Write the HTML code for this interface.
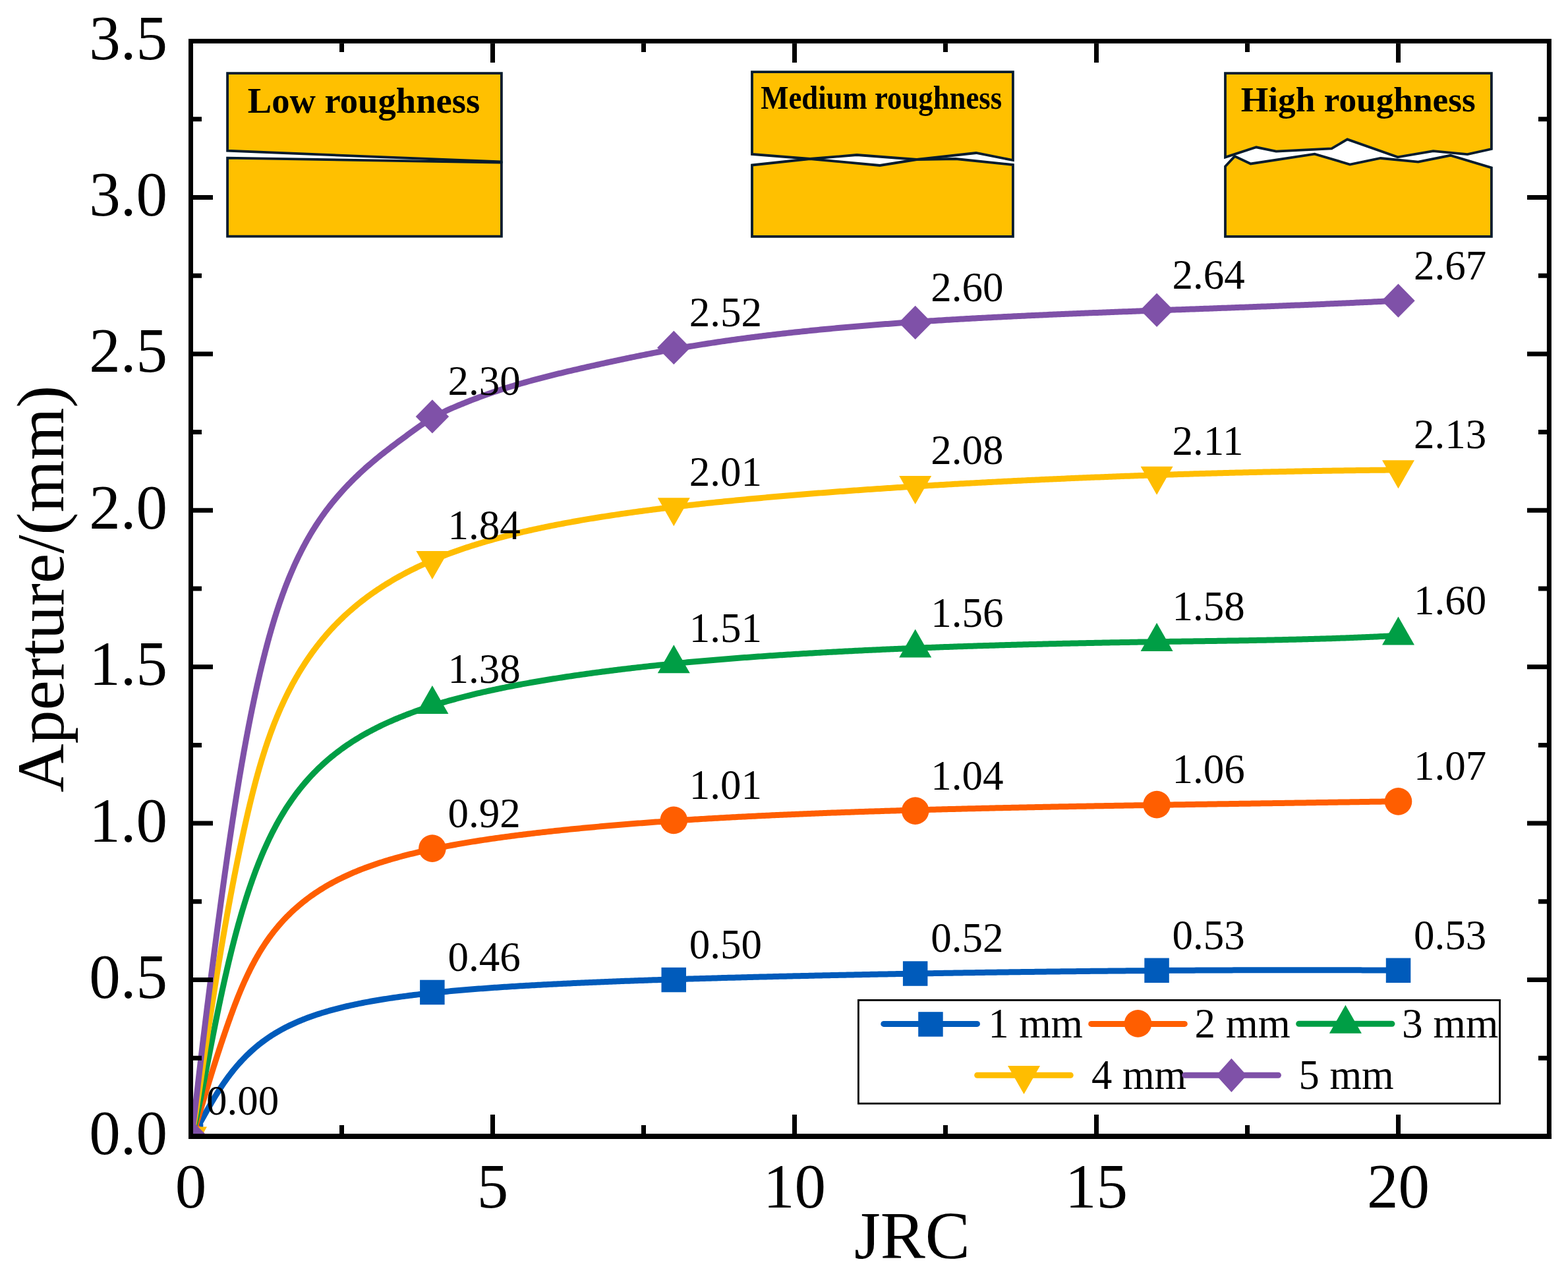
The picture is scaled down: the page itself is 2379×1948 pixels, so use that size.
<!DOCTYPE html>
<html><head><meta charset="utf-8"><title>Aperture vs JRC</title>
<style>
html,body{margin:0;padding:0;background:#fff;}
svg{display:block;}
text{font-family:"Liberation Serif","Times New Roman",serif;fill:#000;}
</style></head><body>
<svg width="2379" height="1948" viewBox="0 0 2379 1948">
<rect x="0" y="0" width="2379" height="1948" fill="#fff"/>
<defs><clipPath id="pa"><rect x="293" y="66" width="2054" height="1654"/></clipPath></defs>

<g id="insets">
<polygon points="345.1,111.1 760.9,111.1 760.9,245.5 345.1,228.7" fill="#FFC000" stroke="#041B2D" stroke-width="3.8" stroke-linejoin="miter"/><polygon points="345.1,239.6 760.9,246.7 760.9,358.7 345.1,358.7" fill="#FFC000" stroke="#041B2D" stroke-width="3.8" stroke-linejoin="miter"/>
<polygon points="1141.0,109.1 1536.9,109.1 1536.9,243.0 1481.0,232.0 1391.0,242.0 1300.0,235.0 1229.0,241.0 1141.0,234.0" fill="#FFC000" stroke="#041B2D" stroke-width="3.8" stroke-linejoin="miter"/><polygon points="1141.0,250.5 1229.0,241.0 1335.0,251.0 1391.0,242.0 1450.0,241.0 1536.9,250.0 1536.9,358.9 1141.0,358.9" fill="#FFC000" stroke="#041B2D" stroke-width="3.8" stroke-linejoin="miter"/>
<polygon points="1859.0,111.2 2262.9,111.2 2262.9,226.0 2226.4,234.2 2174.5,229.1 2120.6,238.4 2044.2,211.4 2020.4,225.3 1936.2,229.7 1906.0,223.3 1859.0,238.6" fill="#FFC000" stroke="#041B2D" stroke-width="3.8" stroke-linejoin="miter"/><polygon points="1859.0,252.5 1873.3,237.1 1897.5,248.5 1994.6,233.7 2048.1,249.5 2094.6,240.0 2151.7,245.7 2200.5,235.8 2262.9,254.5 2262.9,358.9 1859.0,358.9" fill="#FFC000" stroke="#041B2D" stroke-width="3.8" stroke-linejoin="miter"/>
<text x="552" y="171.3" font-size="54.6" font-weight="bold" text-anchor="middle">Low roughness</text>
<text x="1337.2" y="164.8" font-size="50" font-weight="bold" text-anchor="middle" textLength="366" lengthAdjust="spacingAndGlyphs">Medium roughness</text>
<text x="2060.8" y="168.7" font-size="53.3" font-weight="bold" text-anchor="middle">High roughness</text>
</g>
<g clip-path="url(#pa)">
<path d="M289.49,1723.85 L291.72,1721.87 L293.59,1719.51 L295.31,1717.05 L296.95,1714.52 L298.53,1711.97 L300.08,1709.39 L301.59,1706.79 L303.09,1704.18 L304.58,1701.57 L306.06,1698.95 L307.53,1696.33 L309.00,1693.70 L310.46,1691.08 L311.93,1688.45 L313.41,1685.83 L314.89,1683.21 L316.37,1680.60 L317.87,1677.98 L319.37,1675.38 L320.88,1672.78 L322.41,1670.19 L323.95,1667.60 L325.50,1665.03 L327.06,1662.46 L328.65,1659.90 L330.24,1657.35 L331.86,1654.81 L333.49,1652.29 L335.13,1649.77 L336.80,1647.27 L338.49,1644.78 L340.20,1642.30 L341.92,1639.84 L343.67,1637.39 L345.44,1634.96 L347.23,1632.54 L349.05,1630.14 L350.88,1627.76 L352.74,1625.40 L354.63,1623.05 L356.53,1620.73 L358.47,1618.42 L360.42,1616.14 L362.40,1613.87 L364.41,1611.63 L366.44,1609.42 L368.50,1607.22 L370.59,1605.06 L372.70,1602.91 L374.83,1600.80 L377.00,1598.70 L379.18,1596.64 L381.40,1594.60 L383.64,1592.60 L385.90,1590.62 L388.19,1588.67 L390.50,1586.75 L392.84,1584.85 L395.21,1582.99 L397.59,1581.16 L400.00,1579.36 L402.44,1577.60 L404.89,1575.86 L407.37,1574.15 L409.87,1572.48 L412.39,1570.84 L414.93,1569.23 L417.49,1567.65 L420.07,1566.10 L422.67,1564.59 L425.29,1563.11 L427.92,1561.65 L430.57,1560.23 L433.24,1558.84 L435.92,1557.48 L438.61,1556.14 L441.32,1554.84 L444.05,1553.57 L446.79,1552.32 L449.54,1551.10 L452.30,1549.91 L455.07,1548.74 L457.85,1547.60 L460.64,1546.48 L463.45,1545.39 L466.26,1544.32 L469.08,1543.28 L471.91,1542.26 L474.75,1541.26 L477.59,1540.28 L480.44,1539.33 L483.30,1538.39 L486.17,1537.48 L489.04,1536.58 L491.91,1535.70 L494.80,1534.84 L497.69,1534.00 L500.58,1533.18 L503.48,1532.38 L506.38,1531.59 L509.29,1530.82 L512.20,1530.06 L515.11,1529.32 L518.03,1528.59 L520.95,1527.88 L523.88,1527.19 L526.81,1526.50 L529.74,1525.84 L532.68,1525.18 L535.62,1524.54 L538.56,1523.91 L541.50,1523.29 L544.45,1522.69 L547.40,1522.09 L550.35,1521.51 L553.30,1520.94 L556.26,1520.38 L559.21,1519.83 L562.17,1519.29 L565.13,1518.76 L568.09,1518.25 L571.06,1517.74 L574.03,1517.24 L576.99,1516.74 L579.96,1516.26 L582.93,1515.79 L585.90,1515.32 L588.88,1514.87 L591.85,1514.42 L594.83,1513.98 L597.80,1513.54 L600.78,1513.12 L603.76,1512.70 L606.74,1512.29 L609.72,1511.88 L612.70,1511.48 L615.68,1511.09 L618.66,1510.71 L621.65,1510.33 L624.63,1509.96 L627.62,1509.59 L630.60,1509.23 L633.59,1508.87 L636.58,1508.52 L639.57,1508.18 L642.55,1507.84 L645.54,1507.51 L648.53,1507.18 L651.52,1506.86 L654.51,1506.54 L657.51,1506.22 L660.50,1505.91 L663.49,1505.61 L666.48,1505.31 L669.48,1505.01 L672.47,1504.72 L675.46,1504.43 L678.46,1504.15 L681.45,1503.87 L684.45,1503.59 L687.44,1503.32 L690.44,1503.05 L693.44,1502.79 L696.43,1502.53 L699.43,1502.27 L702.43,1502.02 L705.42,1501.77 L708.42,1501.52 L711.42,1501.27 L714.42,1501.03 L717.41,1500.80 L720.41,1500.56 L723.41,1500.33 L726.41,1500.10 L729.41,1499.87 L732.41,1499.65 L735.41,1499.43 L738.41,1499.21 L741.41,1498.99 L744.41,1498.78 L747.41,1498.57 L750.41,1498.36 L753.41,1498.16 L756.41,1497.95 L759.41,1497.75 L762.41,1497.55 L765.42,1497.36 L768.42,1497.16 L771.42,1496.97 L774.42,1496.78 L777.42,1496.59 L780.42,1496.41 L783.43,1496.22 L786.43,1496.04 L789.43,1495.86 L792.43,1495.68 L795.44,1495.51 L798.44,1495.33 L801.44,1495.16 L804.44,1494.99 L807.45,1494.82 L810.45,1494.65 L813.45,1494.49 L816.46,1494.32 L819.46,1494.16 L822.46,1494.00 L825.47,1493.84 L828.47,1493.68 L831.48,1493.53 L834.48,1493.37 L837.48,1493.22 L840.49,1493.07 L843.49,1492.92 L846.49,1492.77 L849.50,1492.62 L852.50,1492.47 L855.51,1492.33 L858.51,1492.18 L861.52,1492.04 L864.52,1491.90 L867.53,1491.76 L870.53,1491.62 L873.53,1491.48 L876.54,1491.35 L879.54,1491.21 L882.55,1491.08 L885.55,1490.94 L888.56,1490.81 L891.56,1490.68 L894.57,1490.55 L897.57,1490.42 L900.58,1490.29 L903.58,1490.17 L906.59,1490.04 L909.59,1489.91 L912.60,1489.79 L915.60,1489.67 L918.61,1489.55 L921.61,1489.42 L924.62,1489.30 L927.63,1489.19 L930.63,1489.07 L933.64,1488.95 L936.64,1488.83 L939.65,1488.72 L942.65,1488.60 L945.66,1488.49 L948.66,1488.37 L951.67,1488.26 L954.68,1488.15 L957.68,1488.04 L960.69,1487.93 L963.69,1487.82 L966.70,1487.71 L969.70,1487.60 L972.71,1487.50 L975.72,1487.39 L978.72,1487.28 L981.73,1487.18 L984.73,1487.07 L987.74,1486.97 L990.75,1486.87 L993.75,1486.76 L996.76,1486.66 L999.76,1486.56 L1002.77,1486.46 L1005.78,1486.36 L1008.78,1486.26 L1011.79,1486.16 L1014.79,1486.07 L1017.80,1485.97 L1020.81,1485.87 L1023.81,1485.77 L1026.82,1485.68 L1029.83,1485.58 L1032.83,1485.49 L1035.84,1485.40 L1038.84,1485.30 L1041.85,1485.21 L1044.86,1485.12 L1047.86,1485.02 L1050.87,1484.93 L1053.88,1484.84 L1056.88,1484.75 L1059.89,1484.66 L1062.90,1484.57 L1065.90,1484.48 L1068.91,1484.40 L1071.92,1484.31 L1074.92,1484.22 L1077.93,1484.13 L1080.93,1484.05 L1083.94,1483.96 L1086.95,1483.88 L1089.95,1483.79 L1092.96,1483.71 L1095.97,1483.62 L1098.97,1483.54 L1101.98,1483.46 L1104.99,1483.37 L1107.99,1483.29 L1111.00,1483.21 L1114.01,1483.13 L1117.01,1483.05 L1120.02,1482.97 L1123.03,1482.89 L1126.03,1482.81 L1129.04,1482.73 L1132.05,1482.65 L1135.05,1482.57 L1138.06,1482.49 L1141.07,1482.41 L1144.07,1482.34 L1147.08,1482.26 L1150.09,1482.18 L1153.10,1482.11 L1156.10,1482.03 L1159.11,1481.95 L1162.12,1481.88 L1165.12,1481.80 L1168.13,1481.73 L1171.14,1481.66 L1174.14,1481.58 L1177.15,1481.51 L1180.16,1481.43 L1183.16,1481.36 L1186.17,1481.29 L1189.18,1481.22 L1192.18,1481.15 L1195.19,1481.07 L1198.20,1481.00 L1201.21,1480.93 L1204.21,1480.86 L1207.22,1480.79 L1210.23,1480.72 L1213.23,1480.65 L1216.24,1480.58 L1219.25,1480.51 L1222.25,1480.45 L1225.26,1480.38 L1228.27,1480.31 L1231.27,1480.24 L1234.28,1480.18 L1237.29,1480.11 L1240.30,1480.04 L1243.30,1479.98 L1246.31,1479.91 L1249.32,1479.84 L1252.32,1479.78 L1255.33,1479.71 L1258.34,1479.65 L1261.35,1479.58 L1264.35,1479.52 L1267.36,1479.46 L1270.37,1479.39 L1273.37,1479.33 L1276.38,1479.27 L1279.39,1479.20 L1282.40,1479.14 L1285.40,1479.08 L1288.41,1479.02 L1291.42,1478.95 L1294.42,1478.89 L1297.43,1478.83 L1300.44,1478.77 L1303.45,1478.71 L1306.45,1478.65 L1309.46,1478.59 L1312.47,1478.53 L1315.47,1478.47 L1318.48,1478.41 L1321.49,1478.35 L1324.50,1478.29 L1327.50,1478.23 L1330.51,1478.18 L1333.52,1478.12 L1336.52,1478.06 L1339.53,1478.00 L1342.54,1477.95 L1345.55,1477.89 L1348.55,1477.83 L1351.56,1477.78 L1354.57,1477.72 L1357.57,1477.66 L1360.58,1477.61 L1363.59,1477.55 L1366.60,1477.50 L1369.60,1477.44 L1372.61,1477.39 L1375.62,1477.33 L1378.63,1477.28 L1381.63,1477.23 L1384.64,1477.17 L1387.65,1477.12 L1390.66,1477.07 L1393.66,1477.01 L1396.67,1476.96 L1399.68,1476.91 L1402.68,1476.86 L1405.69,1476.81 L1408.70,1476.75 L1411.71,1476.70 L1414.71,1476.65 L1417.72,1476.60 L1420.73,1476.55 L1423.74,1476.50 L1426.74,1476.45 L1429.75,1476.40 L1432.76,1476.35 L1435.77,1476.30 L1438.77,1476.25 L1441.78,1476.20 L1444.79,1476.15 L1447.79,1476.11 L1450.80,1476.06 L1453.81,1476.01 L1456.82,1475.96 L1459.82,1475.92 L1462.83,1475.87 L1465.84,1475.82 L1468.85,1475.78 L1471.85,1475.73 L1474.86,1475.68 L1477.87,1475.64 L1480.88,1475.59 L1483.88,1475.55 L1486.89,1475.50 L1489.90,1475.46 L1492.91,1475.41 L1495.91,1475.37 L1498.92,1475.32 L1501.93,1475.28 L1504.94,1475.24 L1507.94,1475.19 L1510.95,1475.15 L1513.96,1475.11 L1516.97,1475.06 L1519.97,1475.02 L1522.98,1474.98 L1525.99,1474.94 L1529.00,1474.90 L1532.00,1474.85 L1535.01,1474.81 L1538.02,1474.77 L1541.03,1474.73 L1544.03,1474.69 L1547.04,1474.65 L1550.05,1474.61 L1553.06,1474.57 L1556.06,1474.53 L1559.07,1474.49 L1562.08,1474.45 L1565.09,1474.41 L1568.09,1474.38 L1571.10,1474.34 L1574.11,1474.30 L1577.12,1474.26 L1580.12,1474.23 L1583.13,1474.19 L1586.14,1474.15 L1589.15,1474.11 L1592.15,1474.08 L1595.16,1474.04 L1598.17,1474.01 L1601.18,1473.97 L1604.18,1473.93 L1607.19,1473.90 L1610.20,1473.86 L1613.21,1473.83 L1616.21,1473.80 L1619.22,1473.76 L1622.23,1473.73 L1625.24,1473.69 L1628.24,1473.66 L1631.25,1473.63 L1634.26,1473.59 L1637.27,1473.56 L1640.27,1473.53 L1643.28,1473.50 L1646.29,1473.47 L1649.30,1473.43 L1652.30,1473.40 L1655.31,1473.37 L1658.32,1473.34 L1661.33,1473.31 L1664.34,1473.28 L1667.34,1473.25 L1670.35,1473.22 L1673.36,1473.19 L1676.37,1473.16 L1679.37,1473.13 L1682.38,1473.11 L1685.39,1473.08 L1688.40,1473.05 L1691.40,1473.02 L1694.41,1472.99 L1697.42,1472.97 L1700.43,1472.94 L1703.43,1472.91 L1706.44,1472.89 L1709.45,1472.86 L1712.46,1472.83 L1715.47,1472.81 L1718.47,1472.78 L1721.48,1472.76 L1724.49,1472.73 L1727.50,1472.71 L1730.50,1472.68 L1733.51,1472.66 L1736.52,1472.64 L1739.53,1472.61 L1742.53,1472.59 L1745.54,1472.57 L1748.55,1472.54 L1751.56,1472.52 L1754.57,1472.50 L1757.57,1472.48 L1760.58,1472.46 L1763.59,1472.43 L1766.60,1472.41 L1769.60,1472.39 L1772.61,1472.37 L1775.62,1472.35 L1778.63,1472.33 L1781.63,1472.31 L1784.64,1472.29 L1787.65,1472.28 L1790.66,1472.26 L1793.67,1472.24 L1796.67,1472.22 L1799.68,1472.20 L1802.69,1472.19 L1805.70,1472.17 L1808.70,1472.15 L1811.71,1472.13 L1814.72,1472.12 L1817.73,1472.10 L1820.73,1472.09 L1823.74,1472.07 L1826.75,1472.06 L1829.76,1472.04 L1832.77,1472.03 L1835.77,1472.01 L1838.78,1472.00 L1841.79,1471.98 L1844.80,1471.97 L1847.80,1471.96 L1850.81,1471.95 L1853.82,1471.93 L1856.83,1471.92 L1859.84,1471.91 L1862.84,1471.90 L1865.85,1471.89 L1868.86,1471.88 L1871.87,1471.87 L1874.87,1471.86 L1877.88,1471.85 L1880.89,1471.84 L1883.90,1471.83 L1886.91,1471.82 L1889.91,1471.81 L1892.92,1471.80 L1895.93,1471.79 L1898.94,1471.78 L1901.94,1471.78 L1904.95,1471.77 L1907.96,1471.76 L1910.97,1471.76 L1913.97,1471.75 L1916.98,1471.74 L1919.99,1471.74 L1923.00,1471.73 L1926.01,1471.73 L1929.01,1471.72 L1932.02,1471.72 L1935.03,1471.72 L1938.04,1471.71 L1941.04,1471.71 L1944.05,1471.71 L1947.06,1471.70 L1950.07,1471.70 L1953.08,1471.70 L1956.08,1471.70 L1959.09,1471.70 L1962.10,1471.70 L1965.11,1471.70 L1968.11,1471.70 L1971.12,1471.70 L1974.13,1471.70 L1977.14,1471.70 L1980.15,1471.70 L1983.15,1471.70 L1986.16,1471.70 L1989.17,1471.70 L1992.18,1471.71 L1995.18,1471.71 L1998.19,1471.71 L2001.20,1471.72 L2004.21,1471.72 L2007.22,1471.72 L2010.22,1471.73 L2013.23,1471.73 L2016.24,1471.74 L2019.25,1471.74 L2022.25,1471.75 L2025.26,1471.76 L2028.27,1471.76 L2031.28,1471.77 L2034.29,1471.78 L2037.29,1471.79 L2040.30,1471.79 L2043.31,1471.80 L2046.32,1471.81 L2049.32,1471.82 L2052.33,1471.83 L2055.34,1471.84 L2058.35,1471.85 L2061.36,1471.86 L2064.36,1471.87 L2067.37,1471.88 L2070.38,1471.89 L2073.39,1471.91 L2076.39,1471.92 L2079.40,1471.93 L2082.41,1471.94 L2085.42,1471.96 L2088.43,1471.97 L2091.43,1471.99 L2094.44,1472.00 L2097.45,1472.02 L2100.46,1472.03 L2103.46,1472.05 L2106.47,1472.06 L2109.48,1472.08 L2112.49,1472.10 L2115.49,1472.11 L2118.50,1472.13 L2121.51,1472.15" fill="none" stroke="#005BBB" stroke-width="9" stroke-linejoin="round"/>
<rect x="270.8" y="1705.2" width="37.5" height="37.5" fill="#005BBB"/>
<rect x="637.1" y="1486.7" width="37.5" height="37.5" fill="#005BBB"/>
<rect x="1003.5" y="1467.8" width="37.5" height="37.5" fill="#005BBB"/>
<rect x="1369.9" y="1458.3" width="37.5" height="37.5" fill="#005BBB"/>
<rect x="1736.3" y="1453.5" width="37.5" height="37.5" fill="#005BBB"/>
<rect x="2102.8" y="1453.5" width="37.5" height="37.5" fill="#005BBB"/>
<path d="M289.50,1723.90 L291.27,1721.51 L292.58,1718.81 L293.73,1716.03 L294.81,1713.23 L295.83,1710.40 L296.81,1707.56 L297.77,1704.71 L298.70,1701.85 L299.62,1698.99 L300.52,1696.12 L301.41,1693.25 L302.30,1690.38 L303.18,1687.51 L304.05,1684.63 L304.92,1681.75 L305.79,1678.88 L306.65,1676.00 L307.51,1673.12 L308.38,1670.24 L309.24,1667.36 L310.11,1664.48 L310.97,1661.60 L311.84,1658.72 L312.70,1655.85 L313.57,1652.97 L314.44,1650.09 L315.32,1647.22 L316.19,1644.34 L317.07,1641.47 L317.95,1638.59 L318.83,1635.72 L319.72,1632.85 L320.61,1629.98 L321.50,1627.11 L322.40,1624.24 L323.30,1621.37 L324.20,1618.50 L325.10,1615.64 L326.01,1612.77 L326.93,1609.91 L327.84,1607.05 L328.76,1604.18 L329.68,1601.32 L330.61,1598.46 L331.54,1595.61 L332.48,1592.75 L333.41,1589.89 L334.36,1587.04 L335.30,1584.19 L336.25,1581.33 L337.21,1578.48 L338.16,1575.64 L339.12,1572.79 L340.09,1569.94 L341.06,1567.10 L342.03,1564.25 L343.01,1561.41 L343.99,1558.57 L344.98,1555.73 L345.97,1552.89 L346.97,1550.06 L347.98,1547.23 L348.99,1544.39 L350.00,1541.57 L351.03,1538.74 L352.06,1535.92 L353.10,1533.10 L354.14,1530.28 L355.20,1527.47 L356.27,1524.66 L357.34,1521.85 L358.43,1519.05 L359.53,1516.25 L360.63,1513.45 L361.75,1510.66 L362.88,1507.88 L364.03,1505.10 L365.18,1502.33 L366.35,1499.56 L367.54,1496.79 L368.73,1494.04 L369.95,1491.29 L371.17,1488.54 L372.42,1485.81 L373.67,1483.08 L374.95,1480.35 L376.24,1477.64 L377.55,1474.93 L378.88,1472.24 L380.22,1469.55 L381.58,1466.87 L382.97,1464.20 L384.37,1461.54 L385.79,1458.90 L387.23,1456.26 L388.70,1453.63 L390.18,1451.02 L391.69,1448.42 L393.21,1445.83 L394.76,1443.25 L396.34,1440.69 L397.93,1438.15 L399.55,1435.61 L401.19,1433.10 L402.86,1430.60 L404.55,1428.11 L406.27,1425.64 L408.01,1423.19 L409.77,1420.76 L411.56,1418.35 L413.38,1415.95 L415.22,1413.58 L417.09,1411.22 L418.98,1408.89 L420.90,1406.57 L422.84,1404.28 L424.81,1402.00 L426.80,1399.75 L428.82,1397.53 L430.86,1395.32 L432.93,1393.14 L435.02,1390.98 L437.13,1388.84 L439.27,1386.73 L441.43,1384.64 L443.61,1382.57 L445.82,1380.53 L448.05,1378.51 L450.30,1376.52 L452.57,1374.55 L454.86,1372.61 L457.18,1370.69 L459.51,1368.80 L461.87,1366.94 L464.24,1365.09 L466.64,1363.28 L469.05,1361.49 L471.49,1359.72 L473.94,1357.98 L476.41,1356.27 L478.89,1354.58 L481.39,1352.91 L483.91,1351.27 L486.45,1349.66 L489.00,1348.07 L491.56,1346.50 L494.14,1344.96 L496.74,1343.44 L499.35,1341.95 L501.97,1340.48 L504.60,1339.04 L507.25,1337.61 L509.91,1336.22 L512.59,1334.84 L515.27,1333.49 L517.96,1332.16 L520.67,1330.85 L523.39,1329.56 L526.11,1328.30 L528.85,1327.05 L531.60,1325.83 L534.35,1324.63 L537.11,1323.45 L539.89,1322.29 L542.67,1321.14 L545.45,1320.02 L548.25,1318.92 L551.05,1317.83 L553.86,1316.76 L556.68,1315.71 L559.50,1314.68 L562.33,1313.67 L565.17,1312.67 L568.01,1311.69 L570.85,1310.72 L573.70,1309.77 L576.56,1308.84 L579.42,1307.92 L582.29,1307.01 L585.16,1306.12 L588.04,1305.25 L590.92,1304.39 L593.80,1303.54 L596.69,1302.70 L599.58,1301.88 L602.47,1301.07 L605.37,1300.27 L608.27,1299.49 L611.17,1298.71 L614.08,1297.95 L616.99,1297.20 L619.91,1296.46 L622.82,1295.73 L625.74,1295.01 L628.66,1294.30 L631.58,1293.60 L634.51,1292.91 L637.44,1292.24 L640.37,1291.57 L643.30,1290.91 L646.24,1290.26 L649.17,1289.61 L652.11,1288.98 L655.05,1288.36 L657.99,1287.74 L660.94,1287.13 L663.88,1286.53 L666.83,1285.94 L669.78,1285.35 L672.72,1284.78 L675.68,1284.21 L678.63,1283.65 L681.58,1283.09 L684.54,1282.54 L687.49,1282.00 L690.45,1281.46 L693.41,1280.94 L696.37,1280.41 L699.33,1279.90 L702.29,1279.39 L705.26,1278.88 L708.22,1278.38 L711.19,1277.89 L714.15,1277.41 L717.12,1276.92 L720.09,1276.45 L723.06,1275.98 L726.02,1275.51 L728.99,1275.05 L731.97,1274.60 L734.94,1274.15 L737.91,1273.70 L740.88,1273.26 L743.86,1272.82 L746.83,1272.39 L749.81,1271.96 L752.78,1271.54 L755.76,1271.12 L758.74,1270.71 L761.71,1270.30 L764.69,1269.89 L767.67,1269.49 L770.65,1269.09 L773.63,1268.70 L776.61,1268.31 L779.59,1267.92 L782.57,1267.54 L785.55,1267.16 L788.53,1266.78 L791.52,1266.41 L794.50,1266.04 L797.48,1265.67 L800.47,1265.31 L803.45,1264.95 L806.44,1264.60 L809.42,1264.24 L812.41,1263.89 L815.39,1263.55 L818.38,1263.20 L821.36,1262.86 L824.35,1262.52 L827.34,1262.19 L830.32,1261.86 L833.31,1261.53 L836.30,1261.20 L839.29,1260.88 L842.28,1260.56 L845.27,1260.24 L848.25,1259.92 L851.24,1259.61 L854.23,1259.30 L857.22,1258.99 L860.21,1258.68 L863.20,1258.38 L866.19,1258.08 L869.19,1257.78 L872.18,1257.49 L875.17,1257.19 L878.16,1256.90 L881.15,1256.61 L884.14,1256.32 L887.13,1256.04 L890.13,1255.76 L893.12,1255.48 L896.11,1255.20 L899.11,1254.92 L902.10,1254.65 L905.09,1254.38 L908.09,1254.11 L911.08,1253.84 L914.07,1253.57 L917.07,1253.31 L920.06,1253.05 L923.06,1252.79 L926.05,1252.53 L929.05,1252.27 L932.04,1252.02 L935.04,1251.77 L938.03,1251.52 L941.03,1251.27 L944.02,1251.02 L947.02,1250.78 L950.01,1250.53 L953.01,1250.29 L956.01,1250.05 L959.00,1249.81 L962.00,1249.58 L964.99,1249.34 L967.99,1249.11 L970.99,1248.88 L973.98,1248.65 L976.98,1248.43 L979.98,1248.20 L982.98,1247.98 L985.97,1247.76 L988.97,1247.53 L991.97,1247.32 L994.97,1247.10 L997.97,1246.88 L1000.96,1246.67 L1003.96,1246.46 L1006.96,1246.25 L1009.96,1246.04 L1012.96,1245.83 L1015.96,1245.63 L1018.95,1245.42 L1021.95,1245.22 L1024.95,1245.02 L1027.95,1244.82 L1030.95,1244.62 L1033.95,1244.43 L1036.95,1244.23 L1039.95,1244.04 L1042.95,1243.85 L1045.95,1243.66 L1048.95,1243.47 L1051.95,1243.29 L1054.95,1243.10 L1057.95,1242.92 L1060.95,1242.73 L1063.95,1242.55 L1066.95,1242.37 L1069.95,1242.19 L1072.95,1242.02 L1075.95,1241.84 L1078.95,1241.67 L1081.95,1241.49 L1084.95,1241.32 L1087.95,1241.15 L1090.95,1240.98 L1093.95,1240.82 L1096.96,1240.65 L1099.96,1240.48 L1102.96,1240.32 L1105.96,1240.16 L1108.96,1240.00 L1111.96,1239.84 L1114.96,1239.68 L1117.96,1239.52 L1120.97,1239.36 L1123.97,1239.21 L1126.97,1239.05 L1129.97,1238.90 L1132.97,1238.74 L1135.97,1238.59 L1138.98,1238.44 L1141.98,1238.29 L1144.98,1238.15 L1147.98,1238.00 L1150.99,1237.85 L1153.99,1237.71 L1156.99,1237.57 L1159.99,1237.42 L1162.99,1237.28 L1166.00,1237.14 L1169.00,1237.00 L1172.00,1236.86 L1175.00,1236.72 L1178.01,1236.59 L1181.01,1236.45 L1184.01,1236.32 L1187.01,1236.18 L1190.02,1236.05 L1193.02,1235.92 L1196.02,1235.79 L1199.03,1235.66 L1202.03,1235.53 L1205.03,1235.40 L1208.03,1235.27 L1211.04,1235.15 L1214.04,1235.02 L1217.04,1234.89 L1220.05,1234.77 L1223.05,1234.65 L1226.05,1234.53 L1229.06,1234.40 L1232.06,1234.28 L1235.06,1234.16 L1238.07,1234.04 L1241.07,1233.93 L1244.07,1233.81 L1247.08,1233.69 L1250.08,1233.58 L1253.08,1233.46 L1256.09,1233.35 L1259.09,1233.23 L1262.09,1233.12 L1265.10,1233.01 L1268.10,1232.90 L1271.10,1232.79 L1274.11,1232.68 L1277.11,1232.57 L1280.12,1232.46 L1283.12,1232.35 L1286.12,1232.25 L1289.13,1232.14 L1292.13,1232.04 L1295.13,1231.93 L1298.14,1231.83 L1301.14,1231.72 L1304.15,1231.62 L1307.15,1231.52 L1310.15,1231.42 L1313.16,1231.32 L1316.16,1231.22 L1319.17,1231.12 L1322.17,1231.02 L1325.17,1230.92 L1328.18,1230.82 L1331.18,1230.73 L1334.19,1230.63 L1337.19,1230.53 L1340.20,1230.44 L1343.20,1230.34 L1346.20,1230.25 L1349.21,1230.16 L1352.21,1230.06 L1355.22,1229.97 L1358.22,1229.88 L1361.22,1229.79 L1364.23,1229.70 L1367.23,1229.61 L1370.24,1229.52 L1373.24,1229.43 L1376.25,1229.34 L1379.25,1229.26 L1382.26,1229.17 L1385.26,1229.08 L1388.26,1229.00 L1391.27,1228.91 L1394.27,1228.83 L1397.28,1228.74 L1400.28,1228.66 L1403.29,1228.57 L1406.29,1228.49 L1409.30,1228.41 L1412.30,1228.33 L1415.31,1228.25 L1418.31,1228.16 L1421.31,1228.08 L1424.32,1228.00 L1427.32,1227.92 L1430.33,1227.84 L1433.33,1227.77 L1436.34,1227.69 L1439.34,1227.61 L1442.35,1227.53 L1445.35,1227.46 L1448.36,1227.38 L1451.36,1227.30 L1454.37,1227.23 L1457.37,1227.15 L1460.38,1227.08 L1463.38,1227.01 L1466.38,1226.93 L1469.39,1226.86 L1472.39,1226.79 L1475.40,1226.71 L1478.40,1226.64 L1481.41,1226.57 L1484.41,1226.50 L1487.42,1226.43 L1490.42,1226.36 L1493.43,1226.29 L1496.43,1226.22 L1499.44,1226.15 L1502.44,1226.08 L1505.45,1226.01 L1508.45,1225.94 L1511.46,1225.87 L1514.46,1225.81 L1517.47,1225.74 L1520.47,1225.67 L1523.48,1225.61 L1526.48,1225.54 L1529.49,1225.47 L1532.49,1225.41 L1535.50,1225.34 L1538.50,1225.28 L1541.51,1225.21 L1544.51,1225.15 L1547.52,1225.09 L1550.52,1225.02 L1553.53,1224.96 L1556.53,1224.90 L1559.54,1224.83 L1562.54,1224.77 L1565.55,1224.71 L1568.55,1224.65 L1571.56,1224.59 L1574.56,1224.53 L1577.57,1224.47 L1580.57,1224.41 L1583.58,1224.34 L1586.58,1224.29 L1589.59,1224.23 L1592.59,1224.17 L1595.60,1224.11 L1598.60,1224.05 L1601.61,1223.99 L1604.61,1223.93 L1607.62,1223.87 L1610.62,1223.82 L1613.63,1223.76 L1616.63,1223.70 L1619.64,1223.65 L1622.64,1223.59 L1625.65,1223.53 L1628.65,1223.48 L1631.66,1223.42 L1634.66,1223.36 L1637.67,1223.31 L1640.67,1223.25 L1643.68,1223.20 L1646.69,1223.14 L1649.69,1223.09 L1652.70,1223.04 L1655.70,1222.98 L1658.71,1222.93 L1661.71,1222.87 L1664.72,1222.82 L1667.72,1222.77 L1670.73,1222.71 L1673.73,1222.66 L1676.74,1222.61 L1679.74,1222.56 L1682.75,1222.50 L1685.75,1222.45 L1688.76,1222.40 L1691.76,1222.35 L1694.77,1222.30 L1697.77,1222.25 L1700.78,1222.19 L1703.78,1222.14 L1706.79,1222.09 L1709.79,1222.04 L1712.80,1221.99 L1715.81,1221.94 L1718.81,1221.89 L1721.82,1221.84 L1724.82,1221.79 L1727.83,1221.74 L1730.83,1221.69 L1733.84,1221.64 L1736.84,1221.59 L1739.85,1221.54 L1742.85,1221.50 L1745.86,1221.45 L1748.86,1221.40 L1751.87,1221.35 L1754.87,1221.30 L1757.88,1221.25 L1760.88,1221.21 L1763.89,1221.16 L1766.90,1221.11 L1769.90,1221.06 L1772.91,1221.01 L1775.91,1220.97 L1778.92,1220.92 L1781.92,1220.87 L1784.93,1220.82 L1787.93,1220.78 L1790.94,1220.73 L1793.94,1220.68 L1796.95,1220.64 L1799.95,1220.59 L1802.96,1220.54 L1805.96,1220.50 L1808.97,1220.45 L1811.97,1220.41 L1814.98,1220.36 L1817.99,1220.31 L1820.99,1220.27 L1824.00,1220.22 L1827.00,1220.17 L1830.01,1220.13 L1833.01,1220.08 L1836.02,1220.04 L1839.02,1219.99 L1842.03,1219.95 L1845.03,1219.90 L1848.04,1219.86 L1851.04,1219.81 L1854.05,1219.76 L1857.05,1219.72 L1860.06,1219.67 L1863.07,1219.63 L1866.07,1219.58 L1869.08,1219.54 L1872.08,1219.49 L1875.09,1219.45 L1878.09,1219.40 L1881.10,1219.36 L1884.10,1219.31 L1887.11,1219.27 L1890.11,1219.22 L1893.12,1219.18 L1896.12,1219.14 L1899.13,1219.09 L1902.13,1219.05 L1905.14,1219.00 L1908.15,1218.96 L1911.15,1218.91 L1914.16,1218.87 L1917.16,1218.82 L1920.17,1218.78 L1923.17,1218.73 L1926.18,1218.69 L1929.18,1218.64 L1932.19,1218.60 L1935.19,1218.56 L1938.20,1218.51 L1941.20,1218.47 L1944.21,1218.42 L1947.22,1218.38 L1950.22,1218.33 L1953.23,1218.29 L1956.23,1218.24 L1959.24,1218.20 L1962.24,1218.15 L1965.25,1218.11 L1968.25,1218.06 L1971.26,1218.02 L1974.26,1217.97 L1977.27,1217.93 L1980.27,1217.88 L1983.28,1217.84 L1986.28,1217.79 L1989.29,1217.75 L1992.30,1217.70 L1995.30,1217.66 L1998.31,1217.61 L2001.31,1217.57 L2004.32,1217.52 L2007.32,1217.48 L2010.33,1217.43 L2013.33,1217.39 L2016.34,1217.34 L2019.34,1217.30 L2022.35,1217.25 L2025.35,1217.21 L2028.36,1217.16 L2031.36,1217.11 L2034.37,1217.07 L2037.38,1217.02 L2040.38,1216.98 L2043.39,1216.93 L2046.39,1216.88 L2049.40,1216.84 L2052.40,1216.79 L2055.41,1216.75 L2058.41,1216.70 L2061.42,1216.65 L2064.42,1216.61 L2067.43,1216.56 L2070.43,1216.51 L2073.44,1216.47 L2076.44,1216.42 L2079.45,1216.37 L2082.46,1216.33 L2085.46,1216.28 L2088.47,1216.23 L2091.47,1216.18 L2094.48,1216.14 L2097.48,1216.09 L2100.49,1216.04 L2103.49,1215.99 L2106.50,1215.94 L2109.50,1215.90 L2112.51,1215.85 L2115.51,1215.80 L2118.52,1215.75 L2121.52,1215.70" fill="none" stroke="#FF5E00" stroke-width="9" stroke-linejoin="round"/>
<circle cx="289.5" cy="1723.9" r="20.8" fill="#FF5E00"/>
<circle cx="655.9" cy="1287.1" r="20.8" fill="#FF5E00"/>
<circle cx="1022.3" cy="1244.4" r="20.8" fill="#FF5E00"/>
<circle cx="1388.7" cy="1230.1" r="20.8" fill="#FF5E00"/>
<circle cx="1755.1" cy="1220.6" r="20.8" fill="#FF5E00"/>
<circle cx="2121.5" cy="1215.9" r="20.8" fill="#FF5E00"/>
<path d="M289.47,1723.85 L290.87,1721.21 L291.90,1718.38 L292.81,1715.52 L293.65,1712.63 L294.45,1709.73 L295.21,1706.82 L295.95,1703.91 L296.67,1700.99 L297.37,1698.06 L298.06,1695.13 L298.73,1692.20 L299.39,1689.27 L300.04,1686.33 L300.69,1683.39 L301.32,1680.45 L301.95,1677.51 L302.57,1674.57 L303.19,1671.63 L303.80,1668.68 L304.41,1665.74 L305.01,1662.79 L305.61,1659.84 L306.21,1656.89 L306.80,1653.95 L307.40,1651.00 L307.98,1648.05 L308.57,1645.10 L309.16,1642.15 L309.74,1639.20 L310.32,1636.25 L310.90,1633.29 L311.48,1630.34 L312.06,1627.39 L312.64,1624.44 L313.21,1621.49 L313.79,1618.54 L314.37,1615.58 L314.94,1612.63 L315.52,1609.68 L316.09,1606.73 L316.67,1603.78 L317.24,1600.82 L317.82,1597.87 L318.40,1594.92 L318.98,1591.97 L319.55,1589.02 L320.13,1586.07 L320.71,1583.11 L321.29,1580.16 L321.87,1577.21 L322.46,1574.26 L323.04,1571.31 L323.63,1568.36 L324.21,1565.41 L324.80,1562.46 L325.39,1559.51 L325.98,1556.56 L326.58,1553.62 L327.17,1550.67 L327.77,1547.72 L328.37,1544.77 L328.97,1541.83 L329.57,1538.88 L330.18,1535.93 L330.79,1532.99 L331.40,1530.04 L332.01,1527.10 L332.62,1524.15 L333.24,1521.21 L333.86,1518.27 L334.49,1515.32 L335.11,1512.38 L335.74,1509.44 L336.38,1506.50 L337.01,1503.56 L337.65,1500.62 L338.29,1497.68 L338.94,1494.75 L339.59,1491.81 L340.24,1488.87 L340.90,1485.94 L341.56,1483.01 L342.22,1480.07 L342.89,1477.14 L343.56,1474.21 L344.24,1471.28 L344.92,1468.35 L345.60,1465.42 L346.29,1462.49 L346.98,1459.56 L347.68,1456.64 L348.39,1453.71 L349.09,1450.79 L349.81,1447.87 L350.52,1444.95 L351.25,1442.03 L351.98,1439.11 L352.71,1436.19 L353.45,1433.28 L354.19,1430.36 L354.94,1427.45 L355.70,1424.54 L356.46,1421.63 L357.23,1418.72 L358.00,1415.82 L358.78,1412.91 L359.57,1410.01 L360.36,1407.11 L361.16,1404.21 L361.97,1401.31 L362.78,1398.42 L363.60,1395.52 L364.43,1392.63 L365.26,1389.74 L366.10,1386.85 L366.95,1383.97 L367.81,1381.08 L368.67,1378.20 L369.55,1375.33 L370.43,1372.45 L371.32,1369.58 L372.21,1366.71 L373.12,1363.84 L374.03,1360.97 L374.96,1358.11 L375.89,1355.25 L376.83,1352.40 L377.78,1349.54 L378.74,1346.69 L379.71,1343.85 L380.70,1341.00 L381.69,1338.16 L382.69,1335.33 L383.70,1332.49 L384.72,1329.66 L385.75,1326.84 L386.79,1324.02 L387.85,1321.20 L388.91,1318.39 L389.99,1315.58 L391.08,1312.78 L392.18,1309.98 L393.30,1307.19 L394.43,1304.40 L395.57,1301.61 L396.72,1298.84 L397.89,1296.07 L399.07,1293.30 L400.26,1290.54 L401.47,1287.79 L402.70,1285.04 L403.93,1282.30 L405.19,1279.56 L406.46,1276.84 L407.74,1274.12 L409.04,1271.40 L410.36,1268.70 L411.69,1266.00 L413.04,1263.32 L414.41,1260.64 L415.79,1257.97 L417.19,1255.30 L418.61,1252.65 L420.04,1250.01 L421.50,1247.38 L422.97,1244.75 L424.46,1242.14 L425.97,1239.54 L427.50,1236.95 L429.05,1234.37 L430.62,1231.81 L432.20,1229.25 L433.81,1226.71 L435.44,1224.18 L437.08,1221.66 L438.75,1219.16 L440.44,1216.67 L442.15,1214.19 L443.88,1211.73 L445.63,1209.29 L447.40,1206.86 L449.19,1204.44 L451.01,1202.04 L452.84,1199.66 L454.70,1197.29 L456.58,1194.94 L458.47,1192.61 L460.39,1190.30 L462.34,1188.00 L464.30,1185.72 L466.28,1183.46 L468.28,1181.22 L470.31,1178.99 L472.36,1176.79 L474.42,1174.60 L476.51,1172.44 L478.62,1170.29 L480.75,1168.17 L482.89,1166.06 L485.06,1163.98 L487.25,1161.91 L489.46,1159.87 L491.68,1157.85 L493.93,1155.85 L496.19,1153.86 L498.47,1151.91 L500.77,1149.97 L503.09,1148.05 L505.42,1146.16 L507.78,1144.28 L510.15,1142.43 L512.53,1140.60 L514.94,1138.79 L517.35,1137.00 L519.79,1135.24 L522.24,1133.49 L524.70,1131.77 L527.18,1130.07 L529.68,1128.39 L532.19,1126.73 L534.71,1125.09 L537.24,1123.47 L539.79,1121.87 L542.36,1120.30 L544.93,1118.74 L547.52,1117.21 L550.11,1115.69 L552.72,1114.20 L555.34,1112.72 L557.98,1111.27 L560.62,1109.83 L563.27,1108.41 L565.94,1107.02 L568.61,1105.64 L571.29,1104.28 L573.98,1102.94 L576.68,1101.61 L579.39,1100.31 L582.11,1099.02 L584.84,1097.75 L587.57,1096.50 L590.31,1095.26 L593.06,1094.04 L595.82,1092.84 L598.58,1091.65 L601.35,1090.48 L604.13,1089.33 L606.92,1088.19 L609.71,1087.07 L612.50,1085.96 L615.30,1084.86 L618.11,1083.78 L620.92,1082.72 L623.74,1081.66 L626.56,1080.63 L629.39,1079.60 L632.22,1078.59 L635.06,1077.59 L637.90,1076.60 L640.75,1075.63 L643.60,1074.67 L646.45,1073.72 L649.31,1072.78 L652.17,1071.86 L655.03,1070.94 L657.90,1070.04 L660.78,1069.15 L663.65,1068.27 L666.53,1067.40 L669.41,1066.54 L672.30,1065.69 L675.19,1064.85 L678.08,1064.02 L680.97,1063.20 L683.87,1062.40 L686.77,1061.60 L689.67,1060.81 L692.58,1060.02 L695.48,1059.25 L698.39,1058.49 L701.30,1057.73 L704.22,1056.99 L707.13,1056.25 L710.05,1055.52 L712.97,1054.80 L715.89,1054.09 L718.82,1053.38 L721.74,1052.68 L724.67,1051.99 L727.60,1051.31 L730.53,1050.63 L733.46,1049.97 L736.39,1049.30 L739.33,1048.65 L742.27,1048.00 L745.21,1047.36 L748.15,1046.73 L751.09,1046.10 L754.03,1045.48 L756.97,1044.86 L759.92,1044.25 L762.87,1043.65 L765.81,1043.05 L768.76,1042.46 L771.71,1041.87 L774.66,1041.29 L777.62,1040.72 L780.57,1040.15 L783.52,1039.59 L786.48,1039.03 L789.43,1038.47 L792.39,1037.93 L795.35,1037.38 L798.31,1036.84 L801.27,1036.31 L804.23,1035.78 L807.19,1035.26 L810.15,1034.74 L813.12,1034.23 L816.08,1033.72 L819.05,1033.21 L822.01,1032.71 L824.98,1032.21 L827.95,1031.72 L830.91,1031.23 L833.88,1030.75 L836.85,1030.27 L839.82,1029.79 L842.79,1029.32 L845.76,1028.85 L848.73,1028.39 L851.71,1027.93 L854.68,1027.47 L857.65,1027.02 L860.63,1026.57 L863.60,1026.12 L866.58,1025.68 L869.55,1025.24 L872.53,1024.81 L875.50,1024.38 L878.48,1023.95 L881.46,1023.53 L884.44,1023.10 L887.41,1022.69 L890.39,1022.27 L893.37,1021.86 L896.35,1021.45 L899.33,1021.05 L902.31,1020.65 L905.29,1020.25 L908.28,1019.85 L911.26,1019.46 L914.24,1019.07 L917.22,1018.68 L920.21,1018.30 L923.19,1017.92 L926.17,1017.54 L929.16,1017.17 L932.14,1016.79 L935.13,1016.43 L938.11,1016.06 L941.10,1015.69 L944.08,1015.33 L947.07,1014.98 L950.06,1014.62 L953.04,1014.27 L956.03,1013.92 L959.02,1013.57 L962.01,1013.23 L964.99,1012.88 L967.98,1012.54 L970.97,1012.21 L973.96,1011.87 L976.95,1011.54 L979.94,1011.21 L982.93,1010.88 L985.92,1010.56 L988.91,1010.24 L991.90,1009.92 L994.89,1009.60 L997.88,1009.29 L1000.87,1008.97 L1003.86,1008.66 L1006.86,1008.36 L1009.85,1008.05 L1012.84,1007.75 L1015.83,1007.45 L1018.83,1007.15 L1021.82,1006.86 L1024.81,1006.56 L1027.81,1006.27 L1030.80,1005.98 L1033.79,1005.70 L1036.79,1005.41 L1039.78,1005.13 L1042.78,1004.85 L1045.77,1004.58 L1048.77,1004.30 L1051.76,1004.03 L1054.76,1003.76 L1057.75,1003.49 L1060.75,1003.22 L1063.75,1002.96 L1066.74,1002.69 L1069.74,1002.43 L1072.73,1002.17 L1075.73,1001.92 L1078.73,1001.66 L1081.72,1001.41 L1084.72,1001.16 L1087.72,1000.91 L1090.72,1000.66 L1093.71,1000.42 L1096.71,1000.17 L1099.71,999.93 L1102.71,999.69 L1105.71,999.45 L1108.70,999.22 L1111.70,998.98 L1114.70,998.75 L1117.70,998.52 L1120.70,998.29 L1123.70,998.06 L1126.70,997.84 L1129.70,997.61 L1132.70,997.39 L1135.70,997.17 L1138.70,996.95 L1141.70,996.73 L1144.70,996.52 L1147.70,996.30 L1150.70,996.09 L1153.70,995.88 L1156.70,995.67 L1159.70,995.46 L1162.70,995.25 L1165.70,995.05 L1168.70,994.85 L1171.70,994.64 L1174.70,994.44 L1177.70,994.24 L1180.70,994.05 L1183.70,993.85 L1186.70,993.65 L1189.71,993.46 L1192.71,993.27 L1195.71,993.08 L1198.71,992.89 L1201.71,992.70 L1204.71,992.51 L1207.72,992.33 L1210.72,992.14 L1213.72,991.96 L1216.72,991.78 L1219.72,991.60 L1222.73,991.42 L1225.73,991.24 L1228.73,991.07 L1231.73,990.89 L1234.74,990.72 L1237.74,990.55 L1240.74,990.37 L1243.75,990.20 L1246.75,990.04 L1249.75,989.87 L1252.75,989.70 L1255.76,989.54 L1258.76,989.37 L1261.76,989.21 L1264.77,989.05 L1267.77,988.89 L1270.77,988.73 L1273.78,988.57 L1276.78,988.41 L1279.78,988.25 L1282.79,988.10 L1285.79,987.95 L1288.80,987.79 L1291.80,987.64 L1294.80,987.49 L1297.81,987.34 L1300.81,987.19 L1303.81,987.04 L1306.82,986.90 L1309.82,986.75 L1312.83,986.61 L1315.83,986.46 L1318.84,986.32 L1321.84,986.18 L1324.84,986.04 L1327.85,985.90 L1330.85,985.76 L1333.86,985.63 L1336.86,985.49 L1339.87,985.35 L1342.87,985.22 L1345.88,985.09 L1348.88,984.95 L1351.89,984.82 L1354.89,984.69 L1357.90,984.56 L1360.90,984.43 L1363.90,984.30 L1366.91,984.18 L1369.91,984.05 L1372.92,983.93 L1375.92,983.80 L1378.93,983.68 L1381.94,983.55 L1384.94,983.43 L1387.95,983.31 L1390.95,983.19 L1393.96,983.07 L1396.96,982.95 L1399.97,982.84 L1402.97,982.72 L1405.98,982.61 L1408.98,982.49 L1411.99,982.38 L1414.99,982.26 L1418.00,982.15 L1421.01,982.04 L1424.01,981.93 L1427.02,981.82 L1430.02,981.71 L1433.03,981.60 L1436.03,981.49 L1439.04,981.39 L1442.04,981.28 L1445.05,981.17 L1448.06,981.07 L1451.06,980.97 L1454.07,980.86 L1457.07,980.76 L1460.08,980.66 L1463.09,980.56 L1466.09,980.46 L1469.10,980.36 L1472.10,980.26 L1475.11,980.16 L1478.12,980.06 L1481.12,979.97 L1484.13,979.87 L1487.13,979.78 L1490.14,979.68 L1493.15,979.59 L1496.15,979.50 L1499.16,979.40 L1502.17,979.31 L1505.17,979.22 L1508.18,979.13 L1511.18,979.04 L1514.19,978.95 L1517.20,978.86 L1520.20,978.78 L1523.21,978.69 L1526.22,978.60 L1529.22,978.52 L1532.23,978.43 L1535.24,978.35 L1538.24,978.26 L1541.25,978.18 L1544.25,978.10 L1547.26,978.02 L1550.27,977.93 L1553.27,977.85 L1556.28,977.77 L1559.29,977.69 L1562.29,977.62 L1565.30,977.54 L1568.31,977.46 L1571.31,977.38 L1574.32,977.31 L1577.33,977.23 L1580.33,977.16 L1583.34,977.08 L1586.35,977.01 L1589.35,976.93 L1592.36,976.86 L1595.37,976.79 L1598.37,976.72 L1601.38,976.65 L1604.39,976.57 L1607.39,976.50 L1610.40,976.43 L1613.41,976.37 L1616.42,976.30 L1619.42,976.23 L1622.43,976.16 L1625.44,976.10 L1628.44,976.03 L1631.45,975.96 L1634.46,975.90 L1637.46,975.83 L1640.47,975.77 L1643.48,975.71 L1646.48,975.64 L1649.49,975.58 L1652.50,975.52 L1655.51,975.46 L1658.51,975.39 L1661.52,975.33 L1664.53,975.27 L1667.53,975.21 L1670.54,975.15 L1673.55,975.10 L1676.55,975.04 L1679.56,974.98 L1682.57,974.92 L1685.58,974.87 L1688.58,974.81 L1691.59,974.75 L1694.60,974.70 L1697.60,974.64 L1700.61,974.59 L1703.62,974.54 L1706.63,974.48 L1709.63,974.43 L1712.64,974.38 L1715.65,974.32 L1718.65,974.27 L1721.66,974.22 L1724.67,974.17 L1727.68,974.12 L1730.68,974.07 L1733.69,974.02 L1736.70,973.97 L1739.71,973.92 L1742.71,973.88 L1745.72,973.83 L1748.73,973.78 L1751.73,973.73 L1754.74,973.69 L1757.75,973.64 L1760.76,973.60 L1763.76,973.55 L1766.77,973.51 L1769.78,973.46 L1772.79,973.42 L1775.79,973.37 L1778.80,973.33 L1781.81,973.29 L1784.81,973.24 L1787.82,973.20 L1790.83,973.16 L1793.84,973.11 L1796.84,973.07 L1799.85,973.03 L1802.86,972.98 L1805.87,972.94 L1808.87,972.90 L1811.88,972.86 L1814.89,972.81 L1817.90,972.77 L1820.90,972.73 L1823.91,972.69 L1826.92,972.64 L1829.92,972.60 L1832.93,972.56 L1835.94,972.51 L1838.95,972.47 L1841.95,972.43 L1844.96,972.38 L1847.97,972.34 L1850.98,972.29 L1853.98,972.25 L1856.99,972.20 L1860.00,972.16 L1863.01,972.11 L1866.01,972.07 L1869.02,972.02 L1872.03,971.97 L1875.03,971.93 L1878.04,971.88 L1881.05,971.83 L1884.06,971.78 L1887.06,971.73 L1890.07,971.68 L1893.08,971.63 L1896.08,971.58 L1899.09,971.52 L1902.10,971.47 L1905.11,971.42 L1908.11,971.36 L1911.12,971.31 L1914.13,971.25 L1917.13,971.19 L1920.14,971.14 L1923.15,971.08 L1926.16,971.02 L1929.16,970.96 L1932.17,970.90 L1935.18,970.84 L1938.18,970.77 L1941.19,970.71 L1944.20,970.64 L1947.20,970.58 L1950.21,970.51 L1953.22,970.44 L1956.23,970.37 L1959.23,970.30 L1962.24,970.23 L1965.25,970.16 L1968.25,970.08 L1971.26,970.01 L1974.27,969.93 L1977.27,969.86 L1980.28,969.78 L1983.29,969.70 L1986.29,969.62 L1989.30,969.53 L1992.31,969.45 L1995.31,969.36 L1998.32,969.28 L2001.32,969.19 L2004.33,969.10 L2007.34,969.01 L2010.34,968.91 L2013.35,968.82 L2016.36,968.72 L2019.36,968.63 L2022.37,968.53 L2025.37,968.43 L2028.38,968.33 L2031.39,968.22 L2034.39,968.12 L2037.40,968.01 L2040.40,967.90 L2043.41,967.79 L2046.41,967.68 L2049.42,967.56 L2052.42,967.45 L2055.43,967.33 L2058.44,967.21 L2061.44,967.09 L2064.45,966.96 L2067.45,966.84 L2070.46,966.71 L2073.46,966.58 L2076.46,966.45 L2079.47,966.32 L2082.47,966.18 L2085.48,966.04 L2088.48,965.91 L2091.49,965.76 L2094.49,965.62 L2097.50,965.47 L2100.50,965.33 L2103.50,965.18 L2106.51,965.02 L2109.51,964.87 L2112.51,964.71 L2115.52,964.55 L2118.52,964.39 L2121.52,964.23" fill="none" stroke="#009E45" stroke-width="9" stroke-linejoin="round"/>
<polygon points="289.5,1695.2 314.0,1738.2 265.0,1738.2" fill="#009E45"/>
<polygon points="655.9,1040.0 680.4,1083.0 631.4,1083.0" fill="#009E45"/>
<polygon points="1022.3,978.3 1046.8,1021.3 997.8,1021.3" fill="#009E45"/>
<polygon points="1388.7,954.5 1413.2,997.5 1364.2,997.5" fill="#009E45"/>
<polygon points="1755.1,945.0 1779.6,988.0 1730.6,988.0" fill="#009E45"/>
<polygon points="2121.5,935.6 2146.0,978.6 2097.0,978.6" fill="#009E45"/>
<path d="M289.49,1723.89 L290.62,1721.13 L291.41,1718.23 L292.10,1715.30 L292.73,1712.37 L293.33,1709.42 L293.89,1706.47 L294.44,1703.52 L294.97,1700.56 L295.49,1697.60 L296.00,1694.64 L296.50,1691.68 L296.99,1688.71 L297.47,1685.75 L297.95,1682.78 L298.42,1679.82 L298.88,1676.85 L299.35,1673.88 L299.81,1670.91 L300.26,1667.94 L300.71,1664.97 L301.16,1662.00 L301.61,1659.03 L302.06,1656.06 L302.51,1653.09 L302.95,1650.12 L303.39,1647.14 L303.83,1644.17 L304.27,1641.20 L304.71,1638.23 L305.15,1635.26 L305.59,1632.28 L306.03,1629.31 L306.47,1626.34 L306.90,1623.37 L307.34,1620.39 L307.78,1617.42 L308.22,1614.45 L308.66,1611.48 L309.09,1608.50 L309.53,1605.53 L309.97,1602.56 L310.41,1599.59 L310.85,1596.62 L311.29,1593.64 L311.73,1590.67 L312.17,1587.70 L312.61,1584.73 L313.05,1581.76 L313.50,1578.79 L313.94,1575.81 L314.39,1572.84 L314.83,1569.87 L315.28,1566.90 L315.73,1563.93 L316.17,1560.96 L316.62,1557.99 L317.07,1555.02 L317.52,1552.05 L317.98,1549.08 L318.43,1546.11 L318.88,1543.14 L319.34,1540.17 L319.79,1537.20 L320.25,1534.23 L320.71,1531.26 L321.17,1528.29 L321.63,1525.32 L322.09,1522.35 L322.55,1519.38 L323.02,1516.42 L323.48,1513.45 L323.95,1510.48 L324.42,1507.51 L324.89,1504.54 L325.36,1501.58 L325.83,1498.61 L326.30,1495.64 L326.78,1492.68 L327.25,1489.71 L327.73,1486.74 L328.21,1483.78 L328.69,1480.81 L329.17,1477.85 L329.66,1474.88 L330.14,1471.92 L330.63,1468.95 L331.11,1465.99 L331.60,1463.02 L332.09,1460.06 L332.58,1457.10 L333.08,1454.13 L333.57,1451.17 L334.07,1448.21 L334.57,1445.24 L335.07,1442.28 L335.57,1439.32 L336.07,1436.36 L336.58,1433.39 L337.08,1430.43 L337.59,1427.47 L338.10,1424.51 L338.61,1421.55 L339.13,1418.59 L339.64,1415.63 L340.16,1412.67 L340.68,1409.71 L341.20,1406.75 L341.72,1403.79 L342.24,1400.84 L342.77,1397.88 L343.30,1394.92 L343.83,1391.96 L344.36,1389.01 L344.89,1386.05 L345.43,1383.09 L345.97,1380.14 L346.50,1377.18 L347.05,1374.23 L347.59,1371.27 L348.14,1368.32 L348.68,1365.36 L349.23,1362.41 L349.79,1359.46 L350.34,1356.50 L350.90,1353.55 L351.46,1350.60 L352.02,1347.65 L352.58,1344.70 L353.15,1341.75 L353.71,1338.80 L354.28,1335.85 L354.86,1332.90 L355.43,1329.95 L356.01,1327.00 L356.59,1324.05 L357.17,1321.10 L357.76,1318.16 L358.35,1315.21 L358.94,1312.27 L359.53,1309.32 L360.13,1306.38 L360.73,1303.43 L361.33,1300.49 L361.93,1297.54 L362.54,1294.60 L363.15,1291.66 L363.76,1288.72 L364.38,1285.78 L365.00,1282.84 L365.62,1279.90 L366.25,1276.96 L366.87,1274.02 L367.51,1271.09 L368.14,1268.15 L368.78,1265.21 L369.42,1262.28 L370.07,1259.34 L370.72,1256.41 L371.37,1253.48 L372.03,1250.55 L372.69,1247.62 L373.35,1244.69 L374.02,1241.76 L374.69,1238.83 L375.36,1235.90 L376.04,1232.97 L376.73,1230.05 L377.41,1227.12 L378.11,1224.20 L378.80,1221.28 L379.51,1218.36 L380.21,1215.44 L380.93,1212.52 L381.65,1209.60 L382.37,1206.69 L383.10,1203.77 L383.84,1200.86 L384.58,1197.95 L385.33,1195.04 L386.08,1192.13 L386.85,1189.22 L387.61,1186.32 L388.39,1183.42 L389.18,1180.52 L389.97,1177.62 L390.77,1174.72 L391.57,1171.83 L392.39,1168.94 L393.21,1166.05 L394.05,1163.16 L394.89,1160.28 L395.74,1157.40 L396.60,1154.52 L397.47,1151.64 L398.35,1148.77 L399.24,1145.90 L400.14,1143.03 L401.05,1140.17 L401.97,1137.31 L402.90,1134.45 L403.84,1131.60 L404.79,1128.75 L405.75,1125.90 L406.73,1123.06 L407.72,1120.22 L408.72,1117.39 L409.73,1114.56 L410.75,1111.74 L411.79,1108.92 L412.84,1106.10 L413.90,1103.29 L414.98,1100.49 L416.07,1097.69 L417.17,1094.89 L418.29,1092.11 L419.42,1089.32 L420.57,1086.55 L421.73,1083.78 L422.91,1081.01 L424.10,1078.25 L425.30,1075.50 L426.52,1072.76 L427.76,1070.02 L429.01,1067.29 L430.28,1064.56 L431.56,1061.84 L432.86,1059.13 L434.17,1056.43 L435.50,1053.74 L436.85,1051.05 L438.21,1048.37 L439.58,1045.70 L440.98,1043.04 L442.39,1040.39 L443.81,1037.74 L445.26,1035.11 L446.72,1032.48 L448.19,1029.87 L449.69,1027.26 L451.20,1024.66 L452.72,1022.08 L454.27,1019.50 L455.83,1016.93 L457.41,1014.38 L459.01,1011.83 L460.62,1009.30 L462.25,1006.77 L463.90,1004.26 L465.57,1001.76 L467.25,999.27 L468.95,996.80 L470.67,994.34 L472.41,991.88 L474.17,989.45 L475.94,987.02 L477.73,984.61 L479.54,982.21 L481.37,979.83 L483.22,977.46 L485.08,975.10 L486.96,972.76 L488.86,970.43 L490.78,968.12 L492.72,965.82 L494.67,963.54 L496.64,961.27 L498.63,959.02 L500.64,956.79 L502.67,954.57 L504.71,952.37 L506.77,950.18 L508.85,948.01 L510.94,945.86 L513.05,943.72 L515.18,941.60 L517.33,939.50 L519.49,937.41 L521.67,935.34 L523.87,933.29 L526.08,931.26 L528.31,929.24 L530.55,927.25 L532.81,925.27 L535.08,923.30 L537.37,921.36 L539.68,919.43 L542.00,917.52 L544.33,915.63 L546.68,913.76 L549.04,911.90 L551.42,910.07 L553.81,908.25 L556.22,906.45 L558.63,904.66 L561.07,902.90 L563.51,901.15 L565.96,899.42 L568.43,897.70 L570.91,896.01 L573.40,894.33 L575.91,892.67 L578.42,891.02 L580.95,889.39 L583.48,887.78 L586.03,886.19 L588.59,884.61 L591.15,883.05 L593.73,881.51 L596.32,879.98 L598.91,878.47 L601.52,876.97 L604.14,875.50 L606.76,874.03 L609.39,872.59 L612.04,871.16 L614.69,869.75 L617.35,868.35 L620.02,866.97 L622.69,865.60 L625.38,864.25 L628.07,862.92 L630.77,861.60 L633.47,860.29 L636.19,859.00 L638.91,857.73 L641.64,856.47 L644.37,855.23 L647.11,854.00 L649.86,852.78 L652.61,851.58 L655.37,850.40 L658.14,849.23 L660.91,848.07 L663.69,846.93 L666.48,845.80 L669.27,844.68 L672.06,843.58 L674.86,842.49 L677.67,841.41 L680.48,840.35 L683.29,839.30 L686.11,838.26 L688.93,837.24 L691.76,836.22 L694.60,835.22 L697.43,834.23 L700.27,833.25 L703.12,832.29 L705.97,831.33 L708.82,830.39 L711.67,829.46 L714.53,828.53 L717.40,827.62 L720.26,826.72 L723.13,825.83 L726.00,824.95 L728.88,824.08 L731.76,823.22 L734.64,822.36 L737.52,821.52 L740.41,820.69 L743.30,819.87 L746.19,819.05 L749.09,818.25 L751.98,817.45 L754.88,816.67 L757.78,815.89 L760.69,815.12 L763.59,814.36 L766.50,813.60 L769.41,812.86 L772.32,812.12 L775.24,811.39 L778.16,810.67 L781.07,809.95 L783.99,809.24 L786.92,808.54 L789.84,807.85 L792.76,807.17 L795.69,806.49 L798.62,805.82 L801.55,805.15 L804.48,804.49 L807.41,803.84 L810.35,803.20 L813.28,802.56 L816.22,801.93 L819.16,801.30 L822.10,800.68 L825.04,800.07 L827.98,799.46 L830.93,798.86 L833.87,798.26 L836.82,797.67 L839.76,797.09 L842.71,796.51 L845.66,795.93 L848.61,795.36 L851.56,794.80 L854.51,794.24 L857.47,793.69 L860.42,793.14 L863.37,792.60 L866.33,792.06 L869.29,791.53 L872.24,791.00 L875.20,790.47 L878.16,789.95 L881.12,789.44 L884.08,788.93 L887.04,788.42 L890.01,787.92 L892.97,787.43 L895.93,786.93 L898.90,786.44 L901.86,785.96 L904.83,785.48 L907.79,785.00 L910.76,784.53 L913.73,784.06 L916.70,783.59 L919.67,783.13 L922.64,782.68 L925.61,782.22 L928.58,781.77 L931.55,781.33 L934.52,780.88 L937.49,780.44 L940.46,780.01 L943.44,779.57 L946.41,779.15 L949.38,778.72 L952.36,778.30 L955.33,777.88 L958.31,777.46 L961.28,777.05 L964.26,776.64 L967.24,776.23 L970.21,775.83 L973.19,775.43 L976.17,775.03 L979.15,774.63 L982.13,774.24 L985.11,773.85 L988.09,773.46 L991.07,773.08 L994.05,772.70 L997.03,772.32 L1000.01,771.95 L1002.99,771.57 L1005.97,771.20 L1008.95,770.83 L1011.93,770.47 L1014.92,770.11 L1017.90,769.74 L1020.88,769.39 L1023.86,769.03 L1026.85,768.68 L1029.83,768.33 L1032.82,767.98 L1035.80,767.63 L1038.78,767.29 L1041.77,766.95 L1044.75,766.61 L1047.74,766.27 L1050.73,765.93 L1053.71,765.60 L1056.70,765.27 L1059.68,764.94 L1062.67,764.62 L1065.66,764.29 L1068.64,763.97 L1071.63,763.65 L1074.62,763.33 L1077.61,763.01 L1080.59,762.70 L1083.58,762.39 L1086.57,762.07 L1089.56,761.77 L1092.55,761.46 L1095.54,761.15 L1098.53,760.85 L1101.52,760.55 L1104.50,760.25 L1107.49,759.95 L1110.48,759.65 L1113.47,759.36 L1116.46,759.07 L1119.45,758.77 L1122.44,758.49 L1125.44,758.20 L1128.43,757.91 L1131.42,757.63 L1134.41,757.34 L1137.40,757.06 L1140.39,756.78 L1143.38,756.50 L1146.37,756.23 L1149.37,755.95 L1152.36,755.68 L1155.35,755.41 L1158.34,755.14 L1161.33,754.87 L1164.33,754.60 L1167.32,754.33 L1170.31,754.07 L1173.30,753.80 L1176.30,753.54 L1179.29,753.28 L1182.28,753.02 L1185.28,752.76 L1188.27,752.51 L1191.26,752.25 L1194.26,752.00 L1197.25,751.75 L1200.24,751.49 L1203.24,751.24 L1206.23,751.00 L1209.23,750.75 L1212.22,750.50 L1215.22,750.26 L1218.21,750.01 L1221.20,749.77 L1224.20,749.53 L1227.19,749.29 L1230.19,749.05 L1233.18,748.81 L1236.18,748.58 L1239.17,748.34 L1242.17,748.11 L1245.16,747.88 L1248.16,747.64 L1251.16,747.41 L1254.15,747.18 L1257.15,746.96 L1260.14,746.73 L1263.14,746.50 L1266.13,746.28 L1269.13,746.05 L1272.13,745.83 L1275.12,745.61 L1278.12,745.39 L1281.12,745.17 L1284.11,744.95 L1287.11,744.73 L1290.11,744.52 L1293.10,744.30 L1296.10,744.09 L1299.10,743.87 L1302.09,743.66 L1305.09,743.45 L1308.09,743.24 L1311.08,743.03 L1314.08,742.82 L1317.08,742.61 L1320.07,742.41 L1323.07,742.20 L1326.07,742.00 L1329.07,741.79 L1332.06,741.59 L1335.06,741.39 L1338.06,741.19 L1341.06,740.99 L1344.06,740.79 L1347.05,740.59 L1350.05,740.39 L1353.05,740.20 L1356.05,740.00 L1359.05,739.81 L1362.04,739.61 L1365.04,739.42 L1368.04,739.23 L1371.04,739.04 L1374.04,738.85 L1377.03,738.66 L1380.03,738.47 L1383.03,738.28 L1386.03,738.10 L1389.03,737.91 L1392.03,737.73 L1395.03,737.54 L1398.03,737.36 L1401.02,737.18 L1404.02,736.99 L1407.02,736.81 L1410.02,736.63 L1413.02,736.45 L1416.02,736.27 L1419.02,736.10 L1422.02,735.92 L1425.02,735.74 L1428.02,735.57 L1431.01,735.39 L1434.01,735.22 L1437.01,735.05 L1440.01,734.88 L1443.01,734.70 L1446.01,734.53 L1449.01,734.36 L1452.01,734.19 L1455.01,734.03 L1458.01,733.86 L1461.01,733.69 L1464.01,733.53 L1467.01,733.36 L1470.01,733.20 L1473.01,733.03 L1476.01,732.87 L1479.01,732.71 L1482.01,732.55 L1485.01,732.38 L1488.01,732.22 L1491.01,732.07 L1494.01,731.91 L1497.01,731.75 L1500.01,731.59 L1503.01,731.44 L1506.01,731.28 L1509.01,731.12 L1512.01,730.97 L1515.01,730.82 L1518.01,730.66 L1521.01,730.51 L1524.01,730.36 L1527.02,730.21 L1530.02,730.06 L1533.02,729.91 L1536.02,729.76 L1539.02,729.61 L1542.02,729.46 L1545.02,729.32 L1548.02,729.17 L1551.02,729.03 L1554.02,728.88 L1557.02,728.74 L1560.02,728.59 L1563.02,728.45 L1566.03,728.31 L1569.03,728.17 L1572.03,728.03 L1575.03,727.89 L1578.03,727.75 L1581.03,727.61 L1584.03,727.47 L1587.03,727.34 L1590.04,727.20 L1593.04,727.06 L1596.04,726.93 L1599.04,726.79 L1602.04,726.66 L1605.04,726.53 L1608.04,726.39 L1611.04,726.26 L1614.05,726.13 L1617.05,726.00 L1620.05,725.87 L1623.05,725.74 L1626.05,725.61 L1629.05,725.48 L1632.06,725.35 L1635.06,725.23 L1638.06,725.10 L1641.06,724.98 L1644.06,724.85 L1647.06,724.73 L1650.07,724.60 L1653.07,724.48 L1656.07,724.36 L1659.07,724.24 L1662.07,724.12 L1665.08,723.99 L1668.08,723.88 L1671.08,723.76 L1674.08,723.64 L1677.08,723.52 L1680.09,723.40 L1683.09,723.29 L1686.09,723.17 L1689.09,723.05 L1692.10,722.94 L1695.10,722.83 L1698.10,722.71 L1701.10,722.60 L1704.10,722.49 L1707.11,722.37 L1710.11,722.26 L1713.11,722.15 L1716.11,722.04 L1719.12,721.93 L1722.12,721.83 L1725.12,721.72 L1728.12,721.61 L1731.13,721.50 L1734.13,721.40 L1737.13,721.29 L1740.13,721.19 L1743.14,721.08 L1746.14,720.98 L1749.14,720.88 L1752.14,720.78 L1755.15,720.67 L1758.15,720.57 L1761.15,720.47 L1764.15,720.37 L1767.16,720.27 L1770.16,720.17 L1773.16,720.08 L1776.17,719.98 L1779.17,719.88 L1782.17,719.79 L1785.17,719.69 L1788.18,719.60 L1791.18,719.50 L1794.18,719.41 L1797.19,719.32 L1800.19,719.22 L1803.19,719.13 L1806.19,719.04 L1809.20,718.95 L1812.20,718.86 L1815.20,718.77 L1818.21,718.68 L1821.21,718.59 L1824.21,718.51 L1827.22,718.42 L1830.22,718.33 L1833.22,718.25 L1836.23,718.16 L1839.23,718.08 L1842.23,717.99 L1845.24,717.91 L1848.24,717.83 L1851.24,717.75 L1854.25,717.67 L1857.25,717.58 L1860.25,717.50 L1863.26,717.43 L1866.26,717.35 L1869.26,717.27 L1872.27,717.19 L1875.27,717.11 L1878.27,717.04 L1881.28,716.96 L1884.28,716.89 L1887.28,716.81 L1890.29,716.74 L1893.29,716.67 L1896.29,716.59 L1899.30,716.52 L1902.30,716.45 L1905.30,716.38 L1908.31,716.31 L1911.31,716.24 L1914.31,716.17 L1917.32,716.10 L1920.32,716.04 L1923.33,715.97 L1926.33,715.90 L1929.33,715.84 L1932.34,715.77 L1935.34,715.71 L1938.34,715.64 L1941.35,715.58 L1944.35,715.52 L1947.35,715.46 L1950.36,715.39 L1953.36,715.33 L1956.37,715.27 L1959.37,715.21 L1962.37,715.16 L1965.38,715.10 L1968.38,715.04 L1971.39,714.98 L1974.39,714.93 L1977.39,714.87 L1980.40,714.82 L1983.40,714.76 L1986.40,714.71 L1989.41,714.66 L1992.41,714.60 L1995.42,714.55 L1998.42,714.50 L2001.42,714.45 L2004.43,714.40 L2007.43,714.35 L2010.44,714.30 L2013.44,714.25 L2016.44,714.21 L2019.45,714.16 L2022.45,714.12 L2025.46,714.07 L2028.46,714.03 L2031.46,713.98 L2034.47,713.94 L2037.47,713.90 L2040.48,713.85 L2043.48,713.81 L2046.49,713.77 L2049.49,713.73 L2052.49,713.69 L2055.50,713.65 L2058.50,713.61 L2061.51,713.58 L2064.51,713.54 L2067.51,713.50 L2070.52,713.47 L2073.52,713.43 L2076.53,713.40 L2079.53,713.37 L2082.53,713.33 L2085.54,713.30 L2088.54,713.27 L2091.55,713.24 L2094.55,713.21 L2097.56,713.18 L2100.56,713.15 L2103.56,713.12 L2106.57,713.09 L2109.57,713.07 L2112.58,713.04 L2115.58,713.02 L2118.59,712.99 L2121.59,712.97" fill="none" stroke="#FFBD00" stroke-width="9" stroke-linejoin="round"/>
<polygon points="289.5,1752.6 314.0,1709.6 265.0,1709.6" fill="#FFBD00"/>
<polygon points="655.9,878.9 680.4,835.9 631.4,835.9" fill="#FFBD00"/>
<polygon points="1022.3,798.2 1046.8,755.2 997.8,755.2" fill="#FFBD00"/>
<polygon points="1388.7,765.0 1413.2,722.0 1364.2,722.0" fill="#FFBD00"/>
<polygon points="1755.1,750.7 1779.6,707.7 1730.6,707.7" fill="#FFBD00"/>
<polygon points="2121.5,741.2 2146.0,698.2 2097.0,698.2" fill="#FFBD00"/>
<path d="M289.52,1723.92 L290.38,1721.05 L290.97,1718.11 L291.49,1715.14 L291.96,1712.18 L292.41,1709.20 L292.84,1706.23 L293.25,1703.25 L293.66,1700.27 L294.05,1697.29 L294.43,1694.31 L294.81,1691.33 L295.19,1688.34 L295.55,1685.36 L295.92,1682.37 L296.28,1679.39 L296.64,1676.40 L297.00,1673.42 L297.35,1670.43 L297.71,1667.45 L298.06,1664.46 L298.41,1661.48 L298.76,1658.49 L299.11,1655.51 L299.46,1652.52 L299.81,1649.53 L300.15,1646.55 L300.50,1643.56 L300.85,1640.57 L301.20,1637.59 L301.55,1634.60 L301.89,1631.62 L302.24,1628.63 L302.59,1625.64 L302.94,1622.66 L303.29,1619.67 L303.64,1616.69 L303.99,1613.70 L304.34,1610.71 L304.69,1607.73 L305.05,1604.74 L305.40,1601.76 L305.75,1598.77 L306.11,1595.79 L306.46,1592.80 L306.82,1589.81 L307.18,1586.83 L307.53,1583.84 L307.89,1580.86 L308.25,1577.87 L308.61,1574.89 L308.97,1571.91 L309.33,1568.92 L309.70,1565.94 L310.06,1562.95 L310.42,1559.97 L310.79,1556.98 L311.16,1554.00 L311.52,1551.02 L311.89,1548.03 L312.26,1545.05 L312.63,1542.06 L313.00,1539.08 L313.37,1536.10 L313.74,1533.11 L314.11,1530.13 L314.48,1527.15 L314.86,1524.16 L315.23,1521.18 L315.61,1518.20 L315.98,1515.22 L316.36,1512.23 L316.74,1509.25 L317.12,1506.27 L317.50,1503.29 L317.88,1500.30 L318.26,1497.32 L318.64,1494.34 L319.02,1491.36 L319.40,1488.37 L319.79,1485.39 L320.17,1482.41 L320.55,1479.43 L320.94,1476.45 L321.33,1473.47 L321.71,1470.48 L322.10,1467.50 L322.49,1464.52 L322.87,1461.54 L323.26,1458.56 L323.65,1455.58 L324.04,1452.60 L324.43,1449.62 L324.82,1446.64 L325.22,1443.65 L325.61,1440.67 L326.00,1437.69 L326.39,1434.71 L326.79,1431.73 L327.18,1428.75 L327.57,1425.77 L327.97,1422.79 L328.36,1419.81 L328.76,1416.83 L329.15,1413.85 L329.55,1410.87 L329.95,1407.89 L330.34,1404.91 L330.74,1401.93 L331.14,1398.95 L331.54,1395.97 L331.94,1392.99 L332.34,1390.01 L332.74,1387.03 L333.14,1384.05 L333.54,1381.07 L333.94,1378.09 L334.34,1375.11 L334.75,1372.13 L335.15,1369.15 L335.56,1366.17 L335.96,1363.20 L336.37,1360.22 L336.77,1357.24 L337.18,1354.26 L337.59,1351.28 L338.00,1348.30 L338.41,1345.32 L338.82,1342.35 L339.23,1339.37 L339.65,1336.39 L340.06,1333.41 L340.47,1330.43 L340.89,1327.46 L341.31,1324.48 L341.72,1321.50 L342.14,1318.52 L342.56,1315.55 L342.98,1312.57 L343.40,1309.59 L343.83,1306.62 L344.25,1303.64 L344.68,1300.67 L345.10,1297.69 L345.53,1294.71 L345.96,1291.74 L346.39,1288.76 L346.82,1285.79 L347.25,1282.81 L347.69,1279.84 L348.12,1276.86 L348.56,1273.89 L349.00,1270.91 L349.44,1267.94 L349.88,1264.97 L350.32,1261.99 L350.77,1259.02 L351.21,1256.04 L351.66,1253.07 L352.11,1250.10 L352.56,1247.13 L353.01,1244.15 L353.46,1241.18 L353.92,1238.21 L354.37,1235.24 L354.83,1232.27 L355.29,1229.30 L355.75,1226.33 L356.22,1223.36 L356.68,1220.39 L357.15,1217.42 L357.62,1214.45 L358.09,1211.48 L358.57,1208.51 L359.04,1205.54 L359.52,1202.57 L360.00,1199.60 L360.48,1196.64 L360.97,1193.67 L361.45,1190.70 L361.94,1187.74 L362.43,1184.77 L362.92,1181.80 L363.42,1178.84 L363.92,1175.87 L364.42,1172.91 L364.92,1169.94 L365.42,1166.98 L365.93,1164.02 L366.44,1161.05 L366.95,1158.09 L367.47,1155.13 L367.99,1152.17 L368.51,1149.21 L369.03,1146.25 L369.56,1143.29 L370.08,1140.33 L370.62,1137.37 L371.15,1134.41 L371.69,1131.45 L372.23,1128.49 L372.77,1125.54 L373.32,1122.58 L373.87,1119.63 L374.42,1116.67 L374.98,1113.72 L375.54,1110.76 L376.10,1107.81 L376.66,1104.86 L377.23,1101.90 L377.81,1098.95 L378.38,1096.00 L378.96,1093.05 L379.55,1090.10 L380.13,1087.15 L380.72,1084.21 L381.32,1081.26 L381.92,1078.31 L382.52,1075.37 L383.13,1072.42 L383.74,1069.48 L384.35,1066.54 L384.97,1063.59 L385.59,1060.65 L386.22,1057.71 L386.85,1054.77 L387.49,1051.83 L388.13,1048.90 L388.77,1045.96 L389.42,1043.02 L390.07,1040.09 L390.73,1037.16 L391.40,1034.22 L392.06,1031.29 L392.74,1028.36 L393.42,1025.43 L394.10,1022.51 L394.79,1019.58 L395.48,1016.65 L396.18,1013.73 L396.88,1010.81 L397.59,1007.89 L398.31,1004.97 L399.03,1002.05 L399.76,999.13 L400.49,996.21 L401.23,993.30 L401.97,990.39 L402.72,987.48 L403.48,984.57 L404.24,981.66 L405.01,978.75 L405.79,975.85 L406.57,972.95 L407.37,970.05 L408.16,967.15 L408.97,964.25 L409.79,961.36 L410.61,958.47 L411.44,955.58 L412.28,952.69 L413.13,949.81 L413.98,946.92 L414.85,944.04 L415.72,941.17 L416.61,938.29 L417.50,935.42 L418.40,932.56 L419.32,929.69 L420.24,926.83 L421.17,923.97 L422.12,921.12 L423.07,918.27 L424.03,915.42 L425.01,912.58 L426.00,909.74 L427.00,906.90 L428.01,904.07 L429.03,901.24 L430.06,898.42 L431.11,895.60 L432.16,892.78 L433.24,889.98 L434.32,887.17 L435.41,884.37 L436.52,881.58 L437.65,878.79 L438.78,876.00 L439.93,873.23 L441.10,870.45 L442.27,867.69 L443.47,864.93 L444.67,862.17 L445.89,859.43 L447.13,856.69 L448.38,853.95 L449.65,851.23 L450.93,848.51 L452.22,845.79 L453.54,843.09 L454.87,840.39 L456.21,837.70 L457.57,835.02 L458.95,832.35 L460.34,829.69 L461.76,827.03 L463.19,824.39 L464.63,821.75 L466.09,819.13 L467.57,816.51 L469.07,813.90 L470.59,811.31 L472.12,808.72 L473.68,806.15 L475.25,803.58 L476.84,801.03 L478.45,798.49 L480.07,795.96 L481.72,793.45 L483.38,790.95 L485.07,788.45 L486.77,785.98 L488.49,783.51 L490.23,781.06 L491.99,778.62 L493.77,776.20 L495.57,773.79 L497.38,771.39 L499.22,769.01 L501.07,766.64 L502.93,764.28 L504.82,761.94 L506.72,759.61 L508.64,757.30 L510.58,755.00 L512.53,752.71 L514.50,750.44 L516.48,748.18 L518.48,745.94 L520.50,743.71 L522.53,741.50 L524.58,739.29 L526.65,737.11 L528.72,734.94 L530.82,732.78 L532.92,730.63 L535.05,728.50 L537.18,726.39 L539.33,724.29 L541.50,722.20 L543.67,720.13 L545.86,718.07 L548.07,716.02 L550.28,713.99 L552.51,711.97 L554.75,709.97 L557.00,707.97 L559.27,706.00 L561.54,704.03 L563.83,702.08 L566.13,700.14 L568.43,698.21 L570.75,696.30 L573.08,694.39 L575.41,692.50 L577.75,690.61 L580.11,688.74 L582.46,686.88 L584.83,685.02 L587.20,683.18 L589.58,681.34 L591.97,679.51 L594.36,677.68 L596.75,675.86 L599.15,674.05 L601.55,672.25 L603.96,670.45 L606.37,668.65 L608.79,666.86 L611.20,665.07 L613.62,663.28 L616.04,661.50 L618.46,659.71 L620.88,657.93 L623.30,656.15 L625.73,654.38 L628.16,652.61 L630.60,650.85 L633.04,649.10 L635.50,647.36 L637.97,645.65 L640.45,643.95 L642.94,642.27 L645.45,640.61 L647.97,638.98 L650.52,637.37 L653.08,635.80 L655.66,634.26 L658.27,632.76 L660.89,631.29 L663.53,629.86 L666.19,628.46 L668.87,627.09 L671.56,625.76 L674.27,624.45 L676.99,623.16 L679.72,621.90 L682.46,620.66 L685.21,619.45 L687.96,618.25 L690.73,617.06 L693.50,615.90 L696.27,614.74 L699.05,613.60 L701.84,612.46 L704.62,611.34 L707.42,610.22 L710.21,609.11 L713.01,608.01 L715.81,606.92 L718.61,605.84 L721.42,604.77 L724.24,603.70 L727.05,602.65 L729.87,601.61 L732.70,600.57 L735.52,599.55 L738.35,598.54 L741.19,597.54 L744.03,596.54 L746.87,595.56 L749.71,594.59 L752.56,593.63 L755.41,592.68 L758.27,591.74 L761.13,590.81 L763.99,589.89 L766.86,588.98 L769.73,588.08 L772.60,587.19 L775.47,586.31 L778.35,585.44 L781.23,584.58 L784.11,583.72 L787.00,582.88 L789.88,582.04 L792.77,581.21 L795.66,580.39 L798.56,579.57 L801.45,578.77 L804.35,577.97 L807.25,577.17 L810.15,576.39 L813.06,575.61 L815.96,574.84 L818.87,574.07 L821.78,573.31 L824.69,572.56 L827.60,571.81 L830.52,571.07 L833.43,570.33 L836.35,569.60 L839.27,568.88 L842.18,568.16 L845.10,567.44 L848.02,566.73 L850.95,566.02 L853.87,565.32 L856.79,564.62 L859.72,563.93 L862.65,563.24 L865.57,562.55 L868.50,561.87 L871.43,561.19 L874.36,560.51 L877.29,559.84 L880.22,559.17 L883.15,558.50 L886.08,557.84 L889.02,557.17 L891.95,556.51 L894.88,555.85 L897.82,555.20 L900.75,554.55 L903.68,553.89 L906.62,553.24 L909.56,552.59 L912.49,551.95 L915.43,551.30 L918.37,550.66 L921.30,550.02 L924.24,549.38 L927.18,548.75 L930.12,548.11 L933.06,547.48 L936.00,546.85 L938.94,546.23 L941.88,545.60 L944.82,544.98 L947.76,544.36 L950.70,543.75 L953.65,543.13 L956.59,542.52 L959.54,541.91 L962.48,541.31 L965.43,540.71 L968.37,540.11 L971.32,539.51 L974.27,538.92 L977.21,538.33 L980.16,537.74 L983.11,537.16 L986.06,536.58 L989.01,536.00 L991.96,535.43 L994.92,534.86 L997.87,534.29 L1000.82,533.73 L1003.78,533.18 L1006.73,532.62 L1009.69,532.07 L1012.64,531.53 L1015.60,530.98 L1018.56,530.45 L1021.52,529.91 L1024.48,529.39 L1027.44,528.86 L1030.40,528.34 L1033.36,527.83 L1036.32,527.31 L1039.29,526.81 L1042.25,526.30 L1045.22,525.80 L1048.18,525.31 L1051.15,524.82 L1054.11,524.33 L1057.08,523.85 L1060.05,523.37 L1063.02,522.90 L1065.99,522.42 L1068.96,521.96 L1071.93,521.49 L1074.90,521.03 L1077.87,520.58 L1080.84,520.13 L1083.82,519.68 L1086.79,519.23 L1089.76,518.79 L1092.74,518.35 L1095.71,517.92 L1098.69,517.49 L1101.66,517.06 L1104.64,516.64 L1107.62,516.22 L1110.59,515.80 L1113.57,515.39 L1116.55,514.97 L1119.53,514.57 L1122.51,514.16 L1125.49,513.76 L1128.47,513.37 L1131.45,512.97 L1134.43,512.58 L1137.41,512.19 L1140.39,511.81 L1143.37,511.43 L1146.36,511.05 L1149.34,510.67 L1152.32,510.30 L1155.31,509.93 L1158.29,509.56 L1161.27,509.20 L1164.26,508.84 L1167.24,508.48 L1170.23,508.12 L1173.22,507.77 L1176.20,507.42 L1179.19,507.07 L1182.17,506.73 L1185.16,506.39 L1188.15,506.05 L1191.14,505.71 L1194.12,505.38 L1197.11,505.05 L1200.10,504.72 L1203.09,504.39 L1206.08,504.07 L1209.07,503.75 L1212.06,503.43 L1215.05,503.12 L1218.04,502.80 L1221.03,502.49 L1224.02,502.18 L1227.01,501.88 L1230.00,501.57 L1232.99,501.27 L1235.98,500.97 L1238.97,500.68 L1241.97,500.38 L1244.96,500.09 L1247.95,499.80 L1250.94,499.51 L1253.94,499.23 L1256.93,498.95 L1259.92,498.66 L1262.92,498.39 L1265.91,498.11 L1268.90,497.83 L1271.90,497.56 L1274.89,497.29 L1277.89,497.02 L1280.88,496.76 L1283.88,496.49 L1286.87,496.23 L1289.87,495.97 L1292.86,495.71 L1295.86,495.46 L1298.85,495.20 L1301.85,494.95 L1304.84,494.70 L1307.84,494.45 L1310.84,494.21 L1313.83,493.96 L1316.83,493.72 L1319.83,493.48 L1322.82,493.24 L1325.82,493.00 L1328.82,492.77 L1331.81,492.53 L1334.81,492.30 L1337.81,492.07 L1340.81,491.84 L1343.81,491.61 L1346.80,491.39 L1349.80,491.17 L1352.80,490.94 L1355.80,490.72 L1358.80,490.50 L1361.80,490.29 L1364.79,490.07 L1367.79,489.86 L1370.79,489.65 L1373.79,489.44 L1376.79,489.23 L1379.79,489.02 L1382.79,488.81 L1385.79,488.61 L1388.79,488.41 L1391.79,488.20 L1394.79,488.00 L1397.79,487.80 L1400.79,487.61 L1403.79,487.41 L1406.79,487.22 L1409.79,487.02 L1412.79,486.83 L1415.79,486.64 L1418.79,486.45 L1421.79,486.27 L1424.79,486.08 L1427.79,485.89 L1430.79,485.71 L1433.79,485.53 L1436.79,485.35 L1439.79,485.17 L1442.79,484.99 L1445.80,484.81 L1448.80,484.63 L1451.80,484.46 L1454.80,484.28 L1457.80,484.11 L1460.80,483.94 L1463.80,483.77 L1466.81,483.60 L1469.81,483.43 L1472.81,483.27 L1475.81,483.10 L1478.81,482.93 L1481.82,482.77 L1484.82,482.61 L1487.82,482.45 L1490.82,482.29 L1493.82,482.13 L1496.83,481.97 L1499.83,481.81 L1502.83,481.65 L1505.83,481.50 L1508.84,481.34 L1511.84,481.19 L1514.84,481.04 L1517.84,480.89 L1520.85,480.74 L1523.85,480.59 L1526.85,480.44 L1529.85,480.29 L1532.86,480.14 L1535.86,480.00 L1538.86,479.85 L1541.87,479.71 L1544.87,479.56 L1547.87,479.42 L1550.87,479.28 L1553.88,479.14 L1556.88,478.99 L1559.88,478.85 L1562.89,478.72 L1565.89,478.58 L1568.89,478.44 L1571.90,478.30 L1574.90,478.17 L1577.90,478.03 L1580.91,477.90 L1583.91,477.76 L1586.91,477.63 L1589.92,477.50 L1592.92,477.37 L1595.92,477.24 L1598.93,477.11 L1601.93,476.98 L1604.94,476.85 L1607.94,476.72 L1610.94,476.59 L1613.95,476.46 L1616.95,476.34 L1619.95,476.21 L1622.96,476.08 L1625.96,475.96 L1628.97,475.83 L1631.97,475.71 L1634.97,475.59 L1637.98,475.46 L1640.98,475.34 L1643.98,475.22 L1646.99,475.10 L1649.99,474.98 L1653.00,474.86 L1656.00,474.74 L1659.00,474.62 L1662.01,474.50 L1665.01,474.38 L1668.02,474.26 L1671.02,474.14 L1674.03,474.02 L1677.03,473.91 L1680.03,473.79 L1683.04,473.67 L1686.04,473.56 L1689.05,473.44 L1692.05,473.33 L1695.05,473.21 L1698.06,473.10 L1701.06,472.98 L1704.07,472.87 L1707.07,472.76 L1710.08,472.64 L1713.08,472.53 L1716.08,472.42 L1719.09,472.30 L1722.09,472.19 L1725.10,472.08 L1728.10,471.97 L1731.11,471.85 L1734.11,471.74 L1737.11,471.63 L1740.12,471.52 L1743.12,471.41 L1746.13,471.30 L1749.13,471.19 L1752.14,471.08 L1755.14,470.97 L1758.15,470.86 L1761.15,470.75 L1764.15,470.64 L1767.16,470.53 L1770.16,470.42 L1773.17,470.31 L1776.17,470.20 L1779.18,470.09 L1782.18,469.98 L1785.19,469.87 L1788.19,469.76 L1791.19,469.65 L1794.20,469.55 L1797.20,469.44 L1800.21,469.33 L1803.21,469.22 L1806.22,469.11 L1809.22,469.00 L1812.23,468.89 L1815.23,468.78 L1818.23,468.67 L1821.24,468.56 L1824.24,468.45 L1827.25,468.35 L1830.25,468.24 L1833.26,468.13 L1836.26,468.02 L1839.27,467.91 L1842.27,467.80 L1845.27,467.69 L1848.28,467.58 L1851.28,467.47 L1854.29,467.36 L1857.29,467.25 L1860.30,467.14 L1863.30,467.03 L1866.31,466.92 L1869.31,466.81 L1872.31,466.70 L1875.32,466.58 L1878.32,466.47 L1881.33,466.36 L1884.33,466.25 L1887.34,466.14 L1890.34,466.03 L1893.34,465.91 L1896.35,465.80 L1899.35,465.69 L1902.36,465.57 L1905.36,465.46 L1908.37,465.35 L1911.37,465.23 L1914.37,465.12 L1917.38,465.00 L1920.38,464.89 L1923.39,464.77 L1926.39,464.66 L1929.40,464.54 L1932.40,464.42 L1935.40,464.31 L1938.41,464.19 L1941.41,464.07 L1944.42,463.96 L1947.42,463.84 L1950.42,463.72 L1953.43,463.60 L1956.43,463.48 L1959.44,463.36 L1962.44,463.24 L1965.44,463.12 L1968.45,463.00 L1971.45,462.88 L1974.46,462.75 L1977.46,462.63 L1980.46,462.51 L1983.47,462.39 L1986.47,462.26 L1989.48,462.14 L1992.48,462.01 L1995.48,461.89 L1998.49,461.76 L2001.49,461.63 L2004.49,461.51 L2007.50,461.38 L2010.50,461.25 L2013.51,461.12 L2016.51,460.99 L2019.51,460.86 L2022.52,460.73 L2025.52,460.60 L2028.52,460.47 L2031.53,460.34 L2034.53,460.21 L2037.53,460.07 L2040.54,459.94 L2043.54,459.80 L2046.54,459.67 L2049.55,459.53 L2052.55,459.40 L2055.55,459.26 L2058.56,459.12 L2061.56,458.98 L2064.56,458.84 L2067.57,458.70 L2070.57,458.56 L2073.57,458.42 L2076.58,458.28 L2079.58,458.14 L2082.58,457.99 L2085.59,457.85 L2088.59,457.70 L2091.59,457.56 L2094.59,457.41 L2097.60,457.26 L2100.60,457.12 L2103.60,456.97 L2106.60,456.82 L2109.61,456.67 L2112.61,456.51 L2115.61,456.36 L2118.62,456.21 L2121.62,456.06" fill="none" stroke="#7F51A8" stroke-width="9" stroke-linejoin="round"/>
<polygon points="289.5,1698.3 314.7,1723.9 289.5,1749.5 264.3,1723.9" fill="#7F51A8"/>
<polygon points="655.9,606.3 681.1,631.9 655.9,657.5 630.7,631.9" fill="#7F51A8"/>
<polygon points="1022.3,501.8 1047.5,527.4 1022.3,553.0 997.1,527.4" fill="#7F51A8"/>
<polygon points="1388.7,463.8 1413.9,489.4 1388.7,515.0 1363.5,489.4" fill="#7F51A8"/>
<polygon points="1755.1,444.8 1780.3,470.4 1755.1,496.0 1729.9,470.4" fill="#7F51A8"/>
<polygon points="2121.5,430.6 2146.7,456.2 2121.5,481.8 2096.3,456.2" fill="#7F51A8"/>
</g>
<g font-size="63">
<text x="313.0" y="1691.3">0.00</text>
<text x="679.4" y="1472.9">0.46</text>
<text x="1045.8" y="1453.9">0.50</text>
<text x="1412.2" y="1444.4">0.52</text>
<text x="1778.6" y="1439.7">0.53</text>
<text x="2145.0" y="1439.7">0.53</text>
<text x="679.4" y="1254.5">0.92</text>
<text x="1045.8" y="1211.8">1.01</text>
<text x="1412.2" y="1197.5">1.04</text>
<text x="1778.6" y="1188.0">1.06</text>
<text x="2145.0" y="1183.3">1.07</text>
<text x="679.4" y="1036.1">1.38</text>
<text x="1045.8" y="974.4">1.51</text>
<text x="1412.2" y="950.6">1.56</text>
<text x="1778.6" y="941.1">1.58</text>
<text x="2145.0" y="931.6">1.60</text>
<text x="679.4" y="817.7">1.84</text>
<text x="1045.8" y="737.0">2.01</text>
<text x="1412.2" y="703.7">2.08</text>
<text x="1778.6" y="689.5">2.11</text>
<text x="2145.0" y="680.0">2.13</text>
<text x="679.4" y="599.3">2.30</text>
<text x="1045.8" y="494.8">2.52</text>
<text x="1412.2" y="456.8">2.60</text>
<text x="1778.6" y="437.8">2.64</text>
<text x="2145.0" y="423.6">2.67</text>
</g>
<g stroke="#000" fill="none">
<rect x="289.5" y="62.4" width="2060.9" height="1661.6" stroke-width="7"/>
<line x1="286" y1="1724" x2="2354" y2="1724" stroke-width="8"/>
<path d="M293,1605.2h13M2347,1605.2h-13M293,1486.5h30M2347,1486.5h-30M293,1367.8h13M2347,1367.8h-13M293,1249.1h30M2347,1249.1h-30M293,1130.4h13M2347,1130.4h-13M293,1011.7h30M2347,1011.7h-30M293,893.0h13M2347,893.0h-13M293,774.3h30M2347,774.3h-30M293,655.6h13M2347,655.6h-13M293,536.9h30M2347,536.9h-30M293,418.2h13M2347,418.2h-13M293,299.5h30M2347,299.5h-30M293,180.8h13M2347,180.8h-13M518.5,1720v-13M518.5,66v13M747.5,1720v-29M747.5,66v29M976.5,1720v-13M976.5,66v13M1205.5,1720v-29M1205.5,66v29M1434.5,1720v-13M1434.5,66v13M1663.5,1720v-29M1663.5,66v29M1892.5,1720v-13M1892.5,66v13M2121.5,1720v-29M2121.5,66v29" stroke-width="7"/>
</g>
<g font-size="95">
<text x="254" y="1751.4" text-anchor="end">0.0</text>
<text x="254" y="1514.0" text-anchor="end">0.5</text>
<text x="254" y="1276.6" text-anchor="end">1.0</text>
<text x="254" y="1039.2" text-anchor="end">1.5</text>
<text x="254" y="801.8" text-anchor="end">2.0</text>
<text x="254" y="564.4" text-anchor="end">2.5</text>
<text x="254" y="327.0" text-anchor="end">3.0</text>
<text x="254" y="89.6" text-anchor="end">3.5</text>
<text x="289.5" y="1832" text-anchor="middle">0</text>
<text x="747.5" y="1832" text-anchor="middle">5</text>
<text x="1205.5" y="1832" text-anchor="middle">10</text>
<text x="1663.5" y="1832" text-anchor="middle">15</text>
<text x="2121.5" y="1832" text-anchor="middle">20</text>
</g>
<text x="1384" y="1908.5" font-size="102" text-anchor="middle">JRC</text>
<text transform="translate(95.5,893.5) rotate(-90)" font-size="102" text-anchor="middle">Aperture/(mm)</text>
<g id="legend">
<rect x="1302.4" y="1517.4" width="973.1" height="156.8" fill="#fff" stroke="#000" stroke-width="2.8"/>
<line x1="1340.8" y1="1553.4" x2="1482.5" y2="1553.4" stroke="#005BBB" stroke-width="9" stroke-linecap="round"/>
<rect x="1393.2" y="1535.2" width="37.5" height="37.5" fill="#005BBB"/>
<text x="1499.5" y="1574" font-size="64" textLength="143.5" lengthAdjust="spacingAndGlyphs">1 mm</text>
<line x1="1655.7" y1="1553.4" x2="1797.3" y2="1553.4" stroke="#FF5E00" stroke-width="9" stroke-linecap="round"/>
<circle cx="1726.5" cy="1552.9" r="20.8" fill="#FF5E00"/>
<text x="1812.5" y="1574" font-size="64" textLength="145.2" lengthAdjust="spacingAndGlyphs">2 mm</text>
<line x1="1970.7" y1="1553.3" x2="2111.9" y2="1553.3" stroke="#009E45" stroke-width="9" stroke-linecap="round"/>
<polygon points="2041.4,1524.8 2065.9,1567.8 2016.9,1567.8" fill="#009E45"/>
<text x="2127" y="1573.5" font-size="64" textLength="146.3" lengthAdjust="spacingAndGlyphs">3 mm</text>
<line x1="1482.7" y1="1631.3" x2="1624.2" y2="1631.3" stroke="#FFBD00" stroke-width="9" stroke-linecap="round"/>
<polygon points="1553.5,1660.0 1578.0,1617.0 1529.0,1617.0" fill="#FFBD00"/>
<text x="1656" y="1651.9" font-size="64" textLength="144.2" lengthAdjust="spacingAndGlyphs">4 mm</text>
<line x1="1797.8" y1="1631.3" x2="1939.4" y2="1631.3" stroke="#7F51A8" stroke-width="9" stroke-linecap="round"/>
<polygon points="1868.4,1605.8 1891.5,1631.4 1868.4,1657.0 1845.3,1631.4" fill="#7F51A8"/>
<text x="1970.5" y="1651.9" font-size="64" textLength="144.2" lengthAdjust="spacingAndGlyphs">5 mm</text>
</g>
</svg>
</body></html>
